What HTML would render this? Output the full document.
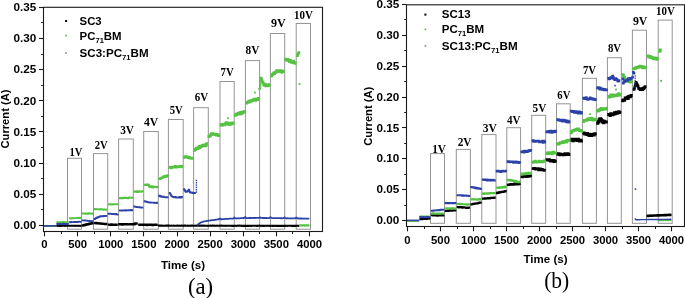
<!DOCTYPE html>
<html><head><meta charset="utf-8"><title>plot</title>
<style>html,body{margin:0;padding:0;background:#fff;width:685px;height:298px;overflow:hidden}svg{display:block;will-change:transform}</style>
</head><body>
<svg width="685" height="298" viewBox="0 0 685 298">
<rect width="685" height="298" fill="#fff"/>
<rect x="67.5" y="158.3" width="14" height="70.9" fill="none" stroke="#959595" stroke-width="1"/>
<rect x="93.5" y="153.6" width="14.2" height="75.6" fill="none" stroke="#959595" stroke-width="1"/>
<rect x="118.6" y="139" width="14.7" height="90.2" fill="none" stroke="#959595" stroke-width="1"/>
<rect x="143.7" y="131.5" width="14.6" height="97.7" fill="none" stroke="#959595" stroke-width="1"/>
<rect x="168.4" y="119.5" width="14.8" height="109.7" fill="none" stroke="#959595" stroke-width="1"/>
<rect x="193.6" y="107.7" width="14.7" height="121.5" fill="none" stroke="#959595" stroke-width="1"/>
<rect x="220" y="81.5" width="14.2" height="147.7" fill="none" stroke="#959595" stroke-width="1"/>
<rect x="245.4" y="60.6" width="14.2" height="168.6" fill="none" stroke="#959595" stroke-width="1"/>
<rect x="270.4" y="33.5" width="14.3" height="195.7" fill="none" stroke="#959595" stroke-width="1"/>
<rect x="296.2" y="23.5" width="14.3" height="205.7" fill="none" stroke="#959595" stroke-width="1"/>
<text x="76" y="155.6" font-family="Liberation Serif" font-size="11.5" font-weight="bold" text-anchor="middle" textLength="12.8" lengthAdjust="spacingAndGlyphs">1V</text>
<text x="101.2" y="148.6" font-family="Liberation Serif" font-size="11.5" font-weight="bold" text-anchor="middle" textLength="13" lengthAdjust="spacingAndGlyphs">2V</text>
<text x="127.1" y="134.3" font-family="Liberation Serif" font-size="11.5" font-weight="bold" text-anchor="middle" textLength="13.8" lengthAdjust="spacingAndGlyphs">3V</text>
<text x="151.15" y="126.4" font-family="Liberation Serif" font-size="11.5" font-weight="bold" text-anchor="middle" textLength="14.3" lengthAdjust="spacingAndGlyphs">4V</text>
<text x="176.2" y="113.6" font-family="Liberation Serif" font-size="11.5" font-weight="bold" text-anchor="middle" textLength="13" lengthAdjust="spacingAndGlyphs">5V</text>
<text x="201.45" y="101.3" font-family="Liberation Serif" font-size="11.5" font-weight="bold" text-anchor="middle" textLength="13.5" lengthAdjust="spacingAndGlyphs">6V</text>
<text x="227.2" y="75.5" font-family="Liberation Serif" font-size="11.5" font-weight="bold" text-anchor="middle" textLength="13.2" lengthAdjust="spacingAndGlyphs">7V</text>
<text x="252.5" y="54.4" font-family="Liberation Serif" font-size="11.5" font-weight="bold" text-anchor="middle" textLength="13.8" lengthAdjust="spacingAndGlyphs">8V</text>
<text x="278.3" y="27.1" font-family="Liberation Serif" font-size="11.5" font-weight="bold" text-anchor="middle" textLength="14.8" lengthAdjust="spacingAndGlyphs">9V</text>
<text x="303.5" y="18.8" font-family="Liberation Serif" font-size="11.5" font-weight="bold" text-anchor="middle" textLength="18.8" lengthAdjust="spacingAndGlyphs">10V</text>
<polyline points="44,225.85 44.72,225.85 45.44,225.85 46.15,225.85 46.87,225.85 47.59,225.85 48.31,225.85 49.02,225.85 49.74,225.85 50.46,225.85 51.18,225.85 51.89,225.85 52.61,225.85 53.33,225.85 54.05,225.85 54.76,225.85 55.48,225.85 56.2,225.85" fill="none" stroke="#000" stroke-width="1.2" stroke-linejoin="round" stroke-linecap="butt"/>
<polyline points="56.2,225.8 56.9,225.81 57.61,225.84 58.31,225.81 59.01,225.79 59.71,225.85 60.42,225.75 61.12,225.84 61.82,225.78 62.53,225.76 63.23,225.76 63.93,225.78 64.63,225.83 65.34,225.77 66.04,225.81 66.74,225.81 67.44,225.79 68.15,225.8 68.85,225.76 69.55,225.76 70.26,225.77 70.96,225.82 71.66,225.79 72.36,225.78 73.07,225.81 73.77,225.8 74.47,225.78 75.17,225.83 75.88,225.82 76.58,225.77 77.28,225.81 77.99,225.8 78.69,225.84 79.39,225.82 80.09,225.78 80.8,225.85 81.5,225.8" fill="none" stroke="#000" stroke-width="2.1" stroke-linejoin="round" stroke-linecap="butt"/>
<path fill="#000" d="M81.7 224.32h2.4v2.4h-2.4zM82.21 224.19h2.4v2.4h-2.4zM82.72 224.01h2.4v2.4h-2.4zM83.23 223.85h2.4v2.4h-2.4zM83.74 223.74h2.4v2.4h-2.4zM84.26 223.64h2.4v2.4h-2.4zM84.77 223.46h2.4v2.4h-2.4zM85.28 223.28h2.4v2.4h-2.4zM85.79 223.13h2.4v2.4h-2.4zM86.3 223.08h2.4v2.4h-2.4zM86.81 222.98h2.4v2.4h-2.4zM87.32 223.01h2.4v2.4h-2.4zM87.83 222.7h2.4v2.4h-2.4zM88.34 222.6h2.4v2.4h-2.4zM88.85 222.39h2.4v2.4h-2.4zM89.36 222.45h2.4v2.4h-2.4zM89.87 222.36h2.4v2.4h-2.4zM90.38 222.13h2.4v2.4h-2.4zM90.89 222.02h2.4v2.4h-2.4z"/>
<path fill="#000" d="M93.7 221.81h2.4v2.4h-2.4zM94.21 221.84h2.4v2.4h-2.4zM94.72 221.82h2.4v2.4h-2.4zM95.23 222.11h2.4v2.4h-2.4zM95.74 222.01h2.4v2.4h-2.4zM96.25 222.05h2.4v2.4h-2.4zM96.75 222.18h2.4v2.4h-2.4zM97.26 222.15h2.4v2.4h-2.4zM97.77 222.19h2.4v2.4h-2.4zM98.28 222.21h2.4v2.4h-2.4zM98.79 222.31h2.4v2.4h-2.4zM99.3 222.37h2.4v2.4h-2.4zM99.81 222.41h2.4v2.4h-2.4zM100.32 222.45h2.4v2.4h-2.4zM100.82 222.45h2.4v2.4h-2.4zM101.33 222.54h2.4v2.4h-2.4zM101.84 222.66h2.4v2.4h-2.4zM102.35 222.65h2.4v2.4h-2.4zM102.86 222.66h2.4v2.4h-2.4zM103.37 222.64h2.4v2.4h-2.4zM103.88 222.8h2.4v2.4h-2.4zM104.39 222.92h2.4v2.4h-2.4zM104.89 222.77h2.4v2.4h-2.4z"/>
<path fill="#000" d="M107.7 223.46h2.4v2.4h-2.4zM108.21 223.39h2.4v2.4h-2.4zM108.73 223.38h2.4v2.4h-2.4zM109.24 223.49h2.4v2.4h-2.4zM109.75 223.6h2.4v2.4h-2.4zM110.27 223.35h2.4v2.4h-2.4zM110.78 223.51h2.4v2.4h-2.4zM111.29 223.53h2.4v2.4h-2.4zM111.8 223.51h2.4v2.4h-2.4zM112.32 223.57h2.4v2.4h-2.4zM112.83 223.42h2.4v2.4h-2.4zM113.34 223.54h2.4v2.4h-2.4zM113.86 223.54h2.4v2.4h-2.4zM114.37 223.56h2.4v2.4h-2.4zM114.88 223.5h2.4v2.4h-2.4zM115.39 223.61h2.4v2.4h-2.4z"/>
<path fill="#000" d="M118.2 223.02h2.4v2.4h-2.4zM118.71 223.11h2.4v2.4h-2.4zM119.21 223.15h2.4v2.4h-2.4zM119.72 223.1h2.4v2.4h-2.4zM120.22 223.09h2.4v2.4h-2.4zM120.73 223.1h2.4v2.4h-2.4zM121.24 223.32h2.4v2.4h-2.4zM121.74 223.22h2.4v2.4h-2.4zM122.25 223.19h2.4v2.4h-2.4zM122.75 223.01h2.4v2.4h-2.4zM123.26 223.18h2.4v2.4h-2.4zM123.76 223.08h2.4v2.4h-2.4zM124.27 223.12h2.4v2.4h-2.4zM124.78 223.17h2.4v2.4h-2.4zM125.28 223.13h2.4v2.4h-2.4zM125.79 223.12h2.4v2.4h-2.4zM126.29 223.19h2.4v2.4h-2.4zM126.8 223.16h2.4v2.4h-2.4zM127.3 223.17h2.4v2.4h-2.4zM127.81 223.19h2.4v2.4h-2.4zM128.31 223.13h2.4v2.4h-2.4zM128.82 223.12h2.4v2.4h-2.4zM129.33 223.14h2.4v2.4h-2.4zM129.83 223.14h2.4v2.4h-2.4zM130.34 223.1h2.4v2.4h-2.4zM130.84 223.12h2.4v2.4h-2.4zM131.35 223.18h2.4v2.4h-2.4zM131.85 223.03h2.4v2.4h-2.4zM132.36 223.13h2.4v2.4h-2.4zM132.87 223.11h2.4v2.4h-2.4zM133.37 222.74h2.4v2.4h-2.4zM133.88 222.56h2.4v2.4h-2.4zM134.38 222.33h2.4v2.4h-2.4zM134.89 222.16h2.4v2.4h-2.4zM135.39 222.47h2.4v2.4h-2.4z"/>
<path fill="#000" d="M138.2 223.51h2.4v2.4h-2.4zM138.71 223.49h2.4v2.4h-2.4zM139.21 223.53h2.4v2.4h-2.4zM139.72 223.58h2.4v2.4h-2.4zM140.22 223.57h2.4v2.4h-2.4zM140.73 223.52h2.4v2.4h-2.4zM141.24 223.68h2.4v2.4h-2.4zM141.74 223.56h2.4v2.4h-2.4zM142.25 223.57h2.4v2.4h-2.4zM142.75 223.64h2.4v2.4h-2.4zM143.26 223.53h2.4v2.4h-2.4zM143.76 223.62h2.4v2.4h-2.4zM144.27 223.65h2.4v2.4h-2.4zM144.78 223.67h2.4v2.4h-2.4zM145.28 223.6h2.4v2.4h-2.4zM145.79 223.74h2.4v2.4h-2.4zM146.29 223.57h2.4v2.4h-2.4zM146.8 223.58h2.4v2.4h-2.4zM147.3 223.55h2.4v2.4h-2.4zM147.81 223.58h2.4v2.4h-2.4zM148.31 223.65h2.4v2.4h-2.4zM148.82 223.63h2.4v2.4h-2.4zM149.33 223.53h2.4v2.4h-2.4zM149.83 223.64h2.4v2.4h-2.4zM150.34 223.57h2.4v2.4h-2.4zM150.84 223.66h2.4v2.4h-2.4zM151.35 223.78h2.4v2.4h-2.4zM151.85 223.79h2.4v2.4h-2.4zM152.36 223.64h2.4v2.4h-2.4zM152.87 223.71h2.4v2.4h-2.4zM153.37 223.53h2.4v2.4h-2.4zM153.88 223.67h2.4v2.4h-2.4zM154.38 223.62h2.4v2.4h-2.4zM154.89 223.61h2.4v2.4h-2.4zM155.39 223.68h2.4v2.4h-2.4z"/>
<polyline points="158,225.7 158.7,225.65 159.41,225.65 160.11,225.68 160.81,225.68 161.51,225.72 162.22,225.75 162.92,225.7 163.62,225.75 164.33,225.75 165.03,225.75 165.73,225.69 166.44,225.68 167.14,225.68 167.84,225.68 168.54,225.68 169.25,225.72 169.95,225.75 170.65,225.74 171.36,225.71 172.06,225.73 172.76,225.74 173.47,225.67 174.17,225.73 174.87,225.75 175.57,225.74 176.28,225.74 176.98,225.71 177.68,225.68 178.39,225.74 179.09,225.7 179.79,225.75 180.5,225.76 181.2,225.71 181.9,225.71 182.6,225.76 183.31,225.74 184.01,225.69 184.71,225.68 185.42,225.68 186.12,225.76 186.82,225.75 187.53,225.69 188.23,225.75 188.93,225.77 189.63,225.74 190.34,225.71 191.04,225.73 191.74,225.69 192.45,225.68 193.15,225.77 193.85,225.74 194.56,225.73 195.26,225.77 195.96,225.72 196.66,225.76 197.37,225.76 198.07,225.7 198.77,225.7 199.48,225.71 200.18,225.7 200.88,225.74 201.59,225.71 202.29,225.72 202.99,225.69 203.69,225.77 204.4,225.72 205.1,225.73 205.8,225.74 206.51,225.77 207.21,225.73 207.91,225.78 208.61,225.74 209.32,225.74 210.02,225.74 210.72,225.69 211.43,225.73 212.13,225.71 212.83,225.69 213.54,225.77 214.24,225.71 214.94,225.74 215.64,225.76 216.35,225.75 217.05,225.72 217.75,225.74 218.46,225.75 219.16,225.77 219.86,225.7 220.57,225.75 221.27,225.72 221.97,225.72 222.67,225.77 223.38,225.75 224.08,225.75 224.78,225.77 225.49,225.79 226.19,225.74 226.89,225.76 227.6,225.75 228.3,225.75 229,225.77 229.7,225.75 230.41,225.75 231.11,225.75 231.81,225.8 232.52,225.77 233.22,225.79 233.92,225.8 234.63,225.73 235.33,225.76 236.03,225.8 236.73,225.79 237.44,225.72 238.14,225.72 238.84,225.75 239.55,225.71 240.25,225.73 240.95,225.72 241.66,225.78 242.36,225.79 243.06,225.8 243.76,225.73 244.47,225.78 245.17,225.78 245.87,225.73 246.58,225.8 247.28,225.81 247.98,225.74 248.69,225.81 249.39,225.75 250.09,225.76 250.79,225.81 251.5,225.8 252.2,225.73 252.9,225.76 253.61,225.77 254.31,225.75 255.01,225.74 255.71,225.75 256.42,225.79 257.12,225.72 257.82,225.78 258.53,225.77 259.23,225.72 259.93,225.76 260.64,225.79 261.34,225.77 262.04,225.73 262.74,225.82 263.45,225.8 264.15,225.82 264.85,225.74 265.56,225.75 266.26,225.73 266.96,225.81 267.67,225.75 268.37,225.74 269.07,225.77 269.77,225.82 270.48,225.81 271.18,225.76 271.88,225.75 272.59,225.82 273.29,225.79 273.99,225.8 274.7,225.74 275.4,225.74 276.1,225.8 276.8,225.78 277.51,225.74 278.21,225.83 278.91,225.8 279.62,225.82 280.32,225.74 281.02,225.82 281.73,225.74 282.43,225.82 283.13,225.78 283.83,225.77 284.54,225.79 285.24,225.83 285.94,225.77 286.65,225.75 287.35,225.79 288.05,225.77 288.76,225.75 289.46,225.76 290.16,225.75 290.86,225.76 291.57,225.78 292.27,225.78 292.97,225.82 293.68,225.78 294.38,225.8 295.08,225.76 295.79,225.78 296.49,225.75 297.19,225.77 297.89,225.75 298.6,225.82 299.3,225.8" fill="none" stroke="#000" stroke-width="2.2" stroke-linejoin="round" stroke-linecap="butt"/>
<polyline points="44,225.75 44.72,225.75 45.44,225.75 46.15,225.75 46.87,225.75 47.59,225.75 48.31,225.75 49.02,225.75 49.74,225.75 50.46,225.75 51.18,225.75 51.89,225.75 52.61,225.75 53.33,225.75 54.05,225.75 54.76,225.75 55.48,225.75 56.2,225.75" fill="none" stroke="#55c244" stroke-width="1.4" stroke-linejoin="round" stroke-linecap="butt"/>
<path fill="#55c244" d="M56.36 221.15h1.91v1.91h-1.91zM56.86 221.14h1.91v1.91h-1.91zM57.37 221.22h1.91v1.91h-1.91zM57.87 221.28h1.91v1.91h-1.91zM58.37 221.28h1.91v1.91h-1.91zM58.88 221.28h1.91v1.91h-1.91zM59.38 221.24h1.91v1.91h-1.91zM59.88 221.14h1.91v1.91h-1.91zM60.39 221.27h1.91v1.91h-1.91zM60.89 221.29h1.91v1.91h-1.91zM61.39 221.39h1.91v1.91h-1.91zM61.9 221.02h1.91v1.91h-1.91zM62.4 221.19h1.91v1.91h-1.91zM62.9 221.15h1.91v1.91h-1.91zM63.41 221.25h1.91v1.91h-1.91zM63.91 221.36h1.91v1.91h-1.91zM64.41 221.17h1.91v1.91h-1.91zM64.92 221.26h1.91v1.91h-1.91zM65.42 221.14h1.91v1.91h-1.91zM65.92 221.28h1.91v1.91h-1.91zM66.43 221.58h1.91v1.91h-1.91zM66.93 221.16h1.91v1.91h-1.91z"/>
<path fill="#55c244" d="M69.16 217.3h1.91v1.91h-1.91zM69.67 217.35h1.91v1.91h-1.91zM70.19 217.47h1.91v1.91h-1.91zM70.7 217.31h1.91v1.91h-1.91zM71.21 217.31h1.91v1.91h-1.91zM71.73 217.3h1.91v1.91h-1.91zM72.24 217.16h1.91v1.91h-1.91zM72.75 217.36h1.91v1.91h-1.91zM73.27 217.15h1.91v1.91h-1.91zM73.78 217.21h1.91v1.91h-1.91zM74.29 217.18h1.91v1.91h-1.91zM74.81 217.17h1.91v1.91h-1.91zM75.32 217.15h1.91v1.91h-1.91zM75.83 217.19h1.91v1.91h-1.91zM76.35 217.08h1.91v1.91h-1.91zM76.86 217.11h1.91v1.91h-1.91zM77.37 217.19h1.91v1.91h-1.91zM77.89 217.07h1.91v1.91h-1.91zM78.4 217.05h1.91v1.91h-1.91zM78.92 217.19h1.91v1.91h-1.91zM79.43 216.77h1.91v1.91h-1.91z"/>
<path fill="#55c244" d="M81.66 212.51h1.91v1.91h-1.91zM82.17 212.44h1.91v1.91h-1.91zM82.69 212.38h1.91v1.91h-1.91zM83.2 212.66h1.91v1.91h-1.91zM83.72 212.48h1.91v1.91h-1.91zM84.23 212.4h1.91v1.91h-1.91zM84.75 212.92h1.91v1.91h-1.91zM85.26 212.71h1.91v1.91h-1.91zM85.77 212.76h1.91v1.91h-1.91zM86.29 212.57h1.91v1.91h-1.91zM86.8 212.56h1.91v1.91h-1.91zM87.32 212.75h1.91v1.91h-1.91zM87.83 212.36h1.91v1.91h-1.91zM88.34 212.46h1.91v1.91h-1.91zM88.86 212.46h1.91v1.91h-1.91zM89.37 212.65h1.91v1.91h-1.91zM89.89 212.55h1.91v1.91h-1.91zM90.4 212.47h1.91v1.91h-1.91zM90.91 212.61h1.91v1.91h-1.91zM91.43 212.76h1.91v1.91h-1.91z"/>
<path fill="#55c244" d="M93.66 207.98h1.91v1.91h-1.91zM94.17 208.3h1.91v1.91h-1.91zM94.68 208.08h1.91v1.91h-1.91zM95.2 208.42h1.91v1.91h-1.91zM95.71 208.15h1.91v1.91h-1.91zM96.22 208.27h1.91v1.91h-1.91zM96.73 208.23h1.91v1.91h-1.91zM97.24 208.42h1.91v1.91h-1.91zM97.75 208.38h1.91v1.91h-1.91zM98.27 208.35h1.91v1.91h-1.91zM98.78 208.46h1.91v1.91h-1.91zM99.29 208.52h1.91v1.91h-1.91zM99.8 208.31h1.91v1.91h-1.91zM100.31 208.35h1.91v1.91h-1.91zM100.82 208.36h1.91v1.91h-1.91zM101.34 208.46h1.91v1.91h-1.91zM101.85 208.4h1.91v1.91h-1.91zM102.36 208.81h1.91v1.91h-1.91zM102.87 208.59h1.91v1.91h-1.91zM103.38 208.61h1.91v1.91h-1.91zM103.89 208.47h1.91v1.91h-1.91zM104.41 208.46h1.91v1.91h-1.91zM104.92 208.63h1.91v1.91h-1.91zM105.43 208.9h1.91v1.91h-1.91z"/>
<path fill="#55c244" d="M107.66 203.43h1.91v1.91h-1.91zM108.19 203.34h1.91v1.91h-1.91zM108.72 203.4h1.91v1.91h-1.91zM109.24 203.32h1.91v1.91h-1.91zM109.77 203.56h1.91v1.91h-1.91zM110.3 203.41h1.91v1.91h-1.91zM110.83 203.56h1.91v1.91h-1.91zM111.35 203.5h1.91v1.91h-1.91zM111.88 203.32h1.91v1.91h-1.91zM112.41 203.23h1.91v1.91h-1.91zM112.94 203.45h1.91v1.91h-1.91zM113.46 203.25h1.91v1.91h-1.91zM113.99 203.13h1.91v1.91h-1.91zM114.52 203.2h1.91v1.91h-1.91zM115.05 203.21h1.91v1.91h-1.91zM115.57 203.41h1.91v1.91h-1.91zM116.1 203.38h1.91v1.91h-1.91zM116.63 203.34h1.91v1.91h-1.91z"/>
<path fill="#55c244" d="M118.83 197.33h1.97v1.97h-1.97zM119.34 196.99h1.97v1.97h-1.97zM119.85 197.23h1.97v1.97h-1.97zM120.36 197.08h1.97v1.97h-1.97zM120.87 197.01h1.97v1.97h-1.97zM121.38 196.96h1.97v1.97h-1.97zM121.9 197.2h1.97v1.97h-1.97zM122.41 196.87h1.97v1.97h-1.97zM122.92 196.71h1.98v1.98h-1.98zM123.43 196.87h1.98v1.98h-1.98zM123.94 197.08h1.98v1.98h-1.98zM124.45 196.71h1.98v1.98h-1.98zM124.96 196.9h1.98v1.98h-1.98zM125.47 197.09h1.98v1.98h-1.98zM125.98 197.05h1.98v1.98h-1.98zM126.49 196.95h1.98v1.98h-1.98zM127.01 197.19h1.98v1.98h-1.98zM127.52 196.8h1.98v1.98h-1.98zM128.03 196.74h1.98v1.98h-1.98zM128.54 196.45h1.98v1.98h-1.98zM129.05 196.79h1.98v1.98h-1.98zM129.56 196.87h1.98v1.98h-1.98zM130.07 196.65h1.98v1.98h-1.98zM130.58 196.65h1.98v1.98h-1.98zM131.09 196.76h1.98v1.98h-1.98z"/>
<path fill="#55c244" d="M133.28 190.77h2.07v2.07h-2.07zM133.79 190.59h2.07v2.07h-2.07zM134.3 190.53h2.07v2.07h-2.07zM134.81 190.56h2.07v2.07h-2.07zM135.32 190.13h2.07v2.07h-2.07zM135.83 190.52h2.07v2.07h-2.07zM136.34 190.82h2.07v2.07h-2.07zM136.85 190.84h2.07v2.07h-2.07zM137.36 190.16h2.07v2.07h-2.07zM137.87 190.53h2.07v2.07h-2.07zM138.38 190.5h2.07v2.07h-2.07zM138.89 190.4h2.07v2.07h-2.07zM139.4 190.7h2.07v2.07h-2.07zM139.91 190.38h2.08v2.08h-2.08zM140.43 190.52h2.08v2.08h-2.08zM140.94 190.5h2.08v2.08h-2.08zM141.45 190.27h2.08v2.08h-2.08z"/>
<path fill="#55c244" d="M143.63 183.75h2.18v2.18h-2.18zM144.14 183.66h2.18v2.18h-2.18zM144.65 183.78h2.18v2.18h-2.18zM145.16 183.52h2.18v2.18h-2.18zM145.67 183.76h2.18v2.18h-2.18zM146.18 183.57h2.18v2.18h-2.18zM146.69 183.51h2.18v2.18h-2.18zM147.2 183.84h2.18v2.18h-2.18zM147.72 183.97h2.17v2.17h-2.17zM148.24 185.34h2.16v2.16h-2.16zM148.75 185.88h2.15v2.15h-2.15zM149.26 185.62h2.15v2.15h-2.15zM149.78 185.28h2.15v2.15h-2.15zM150.29 185.71h2.15v2.15h-2.15zM150.8 185.98h2.15v2.15h-2.15zM151.31 185.23h2.15v2.15h-2.15zM151.82 186.3h2.15v2.15h-2.15zM152.33 185.63h2.15v2.15h-2.15zM152.84 185.71h2.15v2.15h-2.15zM153.35 185.68h2.15v2.15h-2.15zM153.87 185.93h2.15v2.15h-2.15zM154.38 185.96h2.15v2.15h-2.15zM154.89 185.9h2.15v2.15h-2.15zM155.4 185.98h2.15v2.15h-2.15zM155.91 185.74h2.15v2.15h-2.15z"/>
<path fill="#55c244" d="M158.08 177.81h2.28v2.28h-2.28zM158.6 177.44h2.28v2.28h-2.28zM159.12 177.29h2.28v2.28h-2.28zM159.64 177.36h2.28v2.28h-2.28zM160.16 176.85h2.29v2.29h-2.29zM160.68 176.72h2.29v2.29h-2.29zM161.2 176.74h2.3v2.3h-2.3zM161.73 175.76h2.3v2.3h-2.3zM162.25 175.9h2.31v2.31h-2.31zM162.77 175.26h2.31v2.31h-2.31zM163.29 176.05h2.31v2.31h-2.31zM163.81 175.02h2.31v2.31h-2.31zM164.34 174.81h2.31v2.31h-2.31zM164.86 174.97h2.32v2.32h-2.32zM165.38 175.41h2.32v2.32h-2.32zM165.9 174.98h2.32v2.32h-2.32zM166.42 174.26h2.32v2.32h-2.32z"/>
<path fill="#55c244" d="M168.59 166.34h2.45v2.45h-2.45zM169.1 165.96h2.45v2.45h-2.45zM169.6 165.87h2.46v2.46h-2.46zM170.11 166.75h2.46v2.46h-2.46zM170.62 166.22h2.46v2.46h-2.46zM171.12 166.2h2.46v2.46h-2.46zM171.63 166.16h2.46v2.46h-2.46zM172.14 165.69h2.46v2.46h-2.46zM172.64 166.04h2.46v2.46h-2.46zM173.15 165.69h2.46v2.46h-2.46zM173.66 164.88h2.46v2.46h-2.46zM174.16 165.63h2.46v2.46h-2.46zM174.67 166.1h2.46v2.46h-2.46zM175.18 165.44h2.46v2.46h-2.46zM175.68 165.93h2.46v2.46h-2.46zM176.19 165.32h2.46v2.46h-2.46zM176.7 165.56h2.47v2.47h-2.47zM177.2 165.51h2.47v2.47h-2.47zM177.71 165.54h2.47v2.47h-2.47zM178.22 165.62h2.47v2.47h-2.47zM178.72 165.03h2.47v2.47h-2.47zM179.23 165.34h2.47v2.47h-2.47zM179.74 165.87h2.47v2.47h-2.47zM180.24 165.48h2.47v2.47h-2.47zM180.75 165.06h2.47v2.47h-2.47z"/>
<path fill="#55c244" d="M182.91 156.04h2.61v2.61h-2.61zM183.42 155.79h2.62v2.62h-2.62zM183.93 155.61h2.62v2.62h-2.62zM184.43 155.22h2.63v2.63h-2.63zM184.94 155.25h2.63v2.63h-2.63zM185.46 155.39h2.62v2.62h-2.62zM185.97 155.44h2.62v2.62h-2.62zM186.48 156.2h2.62v2.62h-2.62zM186.99 156.42h2.61v2.61h-2.61zM187.51 155.74h2.61v2.61h-2.61zM188.02 156.05h2.61v2.61h-2.61zM188.53 156.83h2.6v2.6h-2.6zM189.04 156.38h2.6v2.6h-2.6zM189.55 156.77h2.6v2.6h-2.6zM190.06 156.82h2.6v2.6h-2.6zM190.57 157.08h2.6v2.6h-2.6zM191.09 156.87h2.6v2.6h-2.6z"/>
<path fill="#55c244" d="M193.25 149.13h2.74v2.74h-2.74zM193.75 148.23h2.74v2.74h-2.74zM194.25 148.07h2.74v2.74h-2.74zM194.75 146.93h2.74v2.74h-2.74zM195.25 146.72h2.75v2.75h-2.75zM195.76 147.23h2.75v2.75h-2.75zM196.26 147.22h2.75v2.75h-2.75zM196.76 146.62h2.76v2.76h-2.76zM197.26 146.79h2.76v2.76h-2.76zM197.76 145.04h2.77v2.77h-2.77zM198.26 146.17h2.77v2.77h-2.77zM198.76 146.08h2.78v2.78h-2.78zM199.26 144.63h2.78v2.78h-2.78zM199.76 145.29h2.78v2.78h-2.78zM200.26 145h2.78v2.78h-2.78zM200.76 144.56h2.79v2.79h-2.79zM201.27 143.68h2.79v2.79h-2.79zM201.77 143.83h2.79v2.79h-2.79zM202.27 144.33h2.79v2.79h-2.79zM202.77 144.5h2.79v2.79h-2.79zM203.28 143.89h2.79v2.79h-2.79zM203.78 144.49h2.79v2.79h-2.79zM204.28 143.2h2.79v2.79h-2.79zM204.79 144.16h2.79v2.79h-2.79zM205.29 142.31h2.79v2.79h-2.79z"/>
<path fill="#55c244" d="M207.52 135.09h2.79v2.79h-2.79zM208.04 134.83h2.79v2.79h-2.79zM208.56 134.46h2.79v2.79h-2.79zM209.08 134.3h2.79v2.79h-2.79zM209.6 133.11h2.79v2.79h-2.79zM210.12 132.3h2.79v2.79h-2.79zM210.64 132.89h2.79v2.79h-2.79zM211.16 132.37h2.79v2.79h-2.79zM211.68 133.05h2.79v2.79h-2.79zM212.2 132.51h2.79v2.79h-2.79zM212.71 132.88h2.79v2.79h-2.79zM213.23 132.96h2.79v2.79h-2.79zM213.75 133.09h2.79v2.79h-2.79zM214.27 132.77h2.79v2.79h-2.79zM214.79 133.72h2.79v2.79h-2.79zM215.31 132.9h2.79v2.79h-2.79zM215.83 133.2h2.79v2.79h-2.79zM216.35 133.56h2.79v2.79h-2.79zM216.87 133.4h2.79v2.79h-2.79zM217.39 134.11h2.79v2.79h-2.79z"/>
<path fill="#55c244" d="M219.62 123.56h2.79v2.79h-2.79zM220.12 123.3h2.79v2.79h-2.79zM220.63 123.88h2.79v2.79h-2.79zM221.13 123.49h2.79v2.79h-2.79zM221.63 122.75h2.79v2.79h-2.79zM222.14 122.79h2.79v2.79h-2.79zM222.64 122.99h2.79v2.79h-2.79zM223.14 123.37h2.79v2.79h-2.79zM223.64 123.02h2.79v2.79h-2.79zM224.15 122.54h2.79v2.79h-2.79zM224.65 121.3h2.79v2.79h-2.79zM225.15 122.65h2.79v2.79h-2.79zM225.66 121.77h2.79v2.79h-2.79zM226.16 121.57h2.79v2.79h-2.79zM226.66 121.95h2.79v2.79h-2.79zM227.16 122.3h2.79v2.79h-2.79zM227.67 122.24h2.79v2.79h-2.79zM228.17 123.31h2.79v2.79h-2.79zM228.67 122.05h2.79v2.79h-2.79zM229.17 121.76h2.79v2.79h-2.79zM229.68 122.62h2.79v2.79h-2.79zM230.18 122.14h2.79v2.79h-2.79zM230.68 121.82h2.79v2.79h-2.79zM231.19 121.59h2.79v2.79h-2.79zM231.69 121.94h2.79v2.79h-2.79z"/>
<path fill="#55c244" d="M233.92 114.05h2.79v2.79h-2.79zM234.42 113.48h2.79v2.79h-2.79zM234.93 112.85h2.79v2.79h-2.79zM235.43 113.21h2.79v2.79h-2.79zM235.94 112.7h2.79v2.79h-2.79zM236.44 111.83h2.79v2.79h-2.79zM236.94 112.56h2.79v2.79h-2.79zM237.45 112.3h2.79v2.79h-2.79zM237.95 112.61h2.79v2.79h-2.79zM238.45 111.63h2.79v2.79h-2.79zM238.96 110.98h2.79v2.79h-2.79zM239.46 111.7h2.79v2.79h-2.79zM239.97 112.36h2.79v2.79h-2.79zM240.47 110.78h2.79v2.79h-2.79zM240.97 111.73h2.79v2.79h-2.79zM241.48 110.86h2.79v2.79h-2.79zM241.98 111h2.79v2.79h-2.79zM242.49 110.57h2.79v2.79h-2.79zM242.99 110.03h2.79v2.79h-2.79z"/>
<path fill="#55c244" d="M245.22 101.76h2.79v2.79h-2.79zM245.74 100.9h2.79v2.79h-2.79zM246.25 100.97h2.79v2.79h-2.79zM246.77 100.93h2.79v2.79h-2.79zM247.28 99.86h2.79v2.79h-2.79zM247.8 100.56h2.79v2.79h-2.79zM248.32 100.26h2.79v2.79h-2.79zM248.83 99.73h2.79v2.79h-2.79zM249.35 99.36h2.79v2.79h-2.79zM249.87 99.59h2.79v2.79h-2.79zM250.38 99.44h2.79v2.79h-2.79zM250.9 98.98h2.79v2.79h-2.79zM251.41 99.03h2.79v2.79h-2.79zM251.93 98.79h2.79v2.79h-2.79zM252.45 97.84h2.79v2.79h-2.79zM252.96 99.05h2.79v2.79h-2.79zM253.48 98.86h2.79v2.79h-2.79zM253.99 97.68h2.79v2.79h-2.79zM254.51 99.07h2.79v2.79h-2.79zM255.03 97.87h2.79v2.79h-2.79zM255.54 97.6h2.79v2.79h-2.79zM256.06 97.85h2.79v2.79h-2.79zM256.57 98.14h2.79v2.79h-2.79zM257.09 97.02h2.79v2.79h-2.79z"/>
<path fill="#55c244" d="M259.72 76.72h2.79v2.79h-2.79zM260.23 78.24h2.79v2.79h-2.79zM260.74 79.54h2.79v2.79h-2.79zM261.25 81.07h2.79v2.79h-2.79zM261.76 81.55h2.79v2.79h-2.79zM262.27 82.85h2.79v2.79h-2.79zM262.78 83.6h2.79v2.79h-2.79zM263.29 83.33h2.79v2.79h-2.79zM263.81 82.74h2.79v2.79h-2.79zM264.32 84.4h2.79v2.79h-2.79zM264.83 84.41h2.79v2.79h-2.79zM265.34 84.49h2.79v2.79h-2.79zM265.85 83.87h2.79v2.79h-2.79zM266.36 84.26h2.79v2.79h-2.79zM266.87 84.3h2.79v2.79h-2.79zM267.38 83.27h2.79v2.79h-2.79zM267.89 83.98h2.79v2.79h-2.79z"/>
<path fill="#55c244" d="M270.12 74.66h2.79v2.79h-2.79zM270.64 73.47h2.79v2.79h-2.79zM271.16 73.27h2.79v2.79h-2.79zM271.68 72.81h2.79v2.79h-2.79zM272.2 72.03h2.79v2.79h-2.79zM272.72 71.17h2.79v2.79h-2.79zM273.24 72.15h2.79v2.79h-2.79zM273.76 71.51h2.79v2.79h-2.79zM274.28 70.76h2.79v2.79h-2.79zM274.8 70.59h2.79v2.79h-2.79zM275.32 69.22h2.79v2.79h-2.79zM275.84 69.67h2.79v2.79h-2.79zM276.37 69.21h2.79v2.79h-2.79zM276.89 70h2.79v2.79h-2.79zM277.41 69.56h2.79v2.79h-2.79zM277.93 69.25h2.79v2.79h-2.79zM278.45 70.14h2.79v2.79h-2.79zM278.97 69.84h2.79v2.79h-2.79zM279.49 69.37h2.79v2.79h-2.79zM280.01 69.57h2.79v2.79h-2.79zM280.53 70.96h2.79v2.79h-2.79zM281.05 69.69h2.79v2.79h-2.79zM281.57 69.82h2.79v2.79h-2.79zM282.09 70.09h2.79v2.79h-2.79z"/>
<path fill="#55c244" d="M284.32 57.74h2.79v2.79h-2.79zM284.85 58.36h2.79v2.79h-2.79zM285.37 58.65h2.79v2.79h-2.79zM285.9 58.89h2.79v2.79h-2.79zM286.43 58.09h2.79v2.79h-2.79zM286.95 58.62h2.79v2.79h-2.79zM287.48 58.78h2.79v2.79h-2.79zM288 60.15h2.79v2.79h-2.79zM288.53 60.12h2.79v2.79h-2.79zM289.06 59.08h2.79v2.79h-2.79zM289.58 60.48h2.79v2.79h-2.79zM290.11 60.84h2.79v2.79h-2.79zM290.63 60.4h2.79v2.79h-2.79zM291.16 60.63h2.79v2.79h-2.79zM291.69 61.22h2.79v2.79h-2.79zM292.21 59.82h2.79v2.79h-2.79zM292.74 61h2.79v2.79h-2.79zM293.26 61.4h2.79v2.79h-2.79zM293.79 61.91h2.79v2.79h-2.79z"/>
<path fill="#55c244" d="M296.02 54.23h2.79v2.79h-2.79zM296.75 52.37h2.79v2.79h-2.79zM297.49 51.34h2.79v2.79h-2.79z"/>
<polyline points="299.3,225.4 300.03,225.38 300.76,225.38 301.49,225.39 302.21,225.43 302.94,225.36 303.67,225.37 304.4,225.43 305.13,225.37 305.86,225.36 306.59,225.35 307.31,225.41 308.04,225.38 308.77,225.45 309.5,225.4" fill="none" stroke="#55c244" stroke-width="2.4" stroke-linejoin="round" stroke-linecap="butt"/>
<rect x="227.1" y="117.3" width="1.8" height="1.8" fill="#55c244"/>
<rect x="254.1" y="91.7" width="1.8" height="1.8" fill="#55c244"/>
<rect x="298.6" y="83.1" width="1.8" height="1.8" fill="#55c244"/>
<rect x="258.3" y="88.1" width="1.8" height="1.8" fill="#55c244"/>
<rect x="259.05" y="87.45" width="2.1" height="2.1" fill="#55c244"/>
<rect x="259.05" y="85.45" width="2.1" height="2.1" fill="#55c244"/>
<rect x="259.05" y="83.45" width="2.1" height="2.1" fill="#55c244"/>
<rect x="259.05" y="81.45" width="2.1" height="2.1" fill="#55c244"/>
<rect x="259.05" y="79.45" width="2.1" height="2.1" fill="#55c244"/>
<rect x="259.05" y="77.45" width="2.1" height="2.1" fill="#55c244"/>
<polyline points="44,225.85 44.72,225.85 45.44,225.85 46.15,225.85 46.87,225.85 47.59,225.85 48.31,225.85 49.02,225.85 49.74,225.85 50.46,225.85 51.18,225.85 51.89,225.85 52.61,225.85 53.33,225.85 54.05,225.85 54.76,225.85 55.48,225.85 56.2,225.85" fill="none" stroke="#2c42a8" stroke-width="1.6" stroke-linejoin="round" stroke-linecap="butt"/>
<path fill="#2c42a8" d="M56.35 222.95h1.79v1.79h-1.79zM56.86 223.16h1.79v1.79h-1.79zM57.37 223.03h1.79v1.79h-1.79zM57.88 223.01h1.79v1.79h-1.79zM58.39 223.06h1.79v1.79h-1.79zM58.9 223.1h1.79v1.79h-1.79zM59.41 223.03h1.79v1.79h-1.79zM59.92 223.11h1.79v1.79h-1.79zM60.43 223.19h1.79v1.79h-1.79zM60.94 223.24h1.79v1.79h-1.79zM61.45 223.3h1.79v1.79h-1.79zM61.96 223.02h1.79v1.79h-1.79zM62.47 223.06h1.79v1.79h-1.79zM62.98 222.82h1.79v1.79h-1.79zM63.49 223.32h1.79v1.79h-1.79zM64 223.02h1.79v1.79h-1.79zM64.51 223.1h1.79v1.79h-1.79zM65.02 223.17h1.79v1.79h-1.79zM65.53 222.95h1.79v1.79h-1.79zM66.04 223.16h1.79v1.79h-1.79zM66.55 223.1h1.79v1.79h-1.79zM67.06 222.9h1.79v1.79h-1.79z"/>
<path fill="#2c42a8" d="M69.15 221.31h1.79v1.79h-1.79zM69.67 221.39h1.79v1.79h-1.79zM70.19 221.03h1.79v1.79h-1.79zM70.71 221.31h1.79v1.79h-1.79zM71.23 221.23h1.79v1.79h-1.79zM71.75 221.24h1.79v1.79h-1.79zM72.27 221.22h1.79v1.79h-1.79zM72.79 221.3h1.79v1.79h-1.79zM73.31 221.11h1.79v1.79h-1.79zM73.84 221.22h1.79v1.79h-1.79zM74.36 221.06h1.79v1.79h-1.79zM74.88 221.17h1.79v1.79h-1.79zM75.4 220.98h1.79v1.79h-1.79zM75.92 221.04h1.79v1.79h-1.79zM76.44 221.24h1.79v1.79h-1.79zM76.96 221.07h1.79v1.79h-1.79zM77.48 220.99h1.79v1.79h-1.79zM78 220.86h1.79v1.79h-1.79zM78.52 220.88h1.79v1.79h-1.79zM79.04 220.98h1.79v1.79h-1.79zM79.56 221.05h1.79v1.79h-1.79z"/>
<path fill="#2c42a8" d="M81.65 219.46h1.79v1.79h-1.79zM82.17 219.52h1.79v1.79h-1.79zM82.69 219.51h1.79v1.79h-1.79zM83.22 219.72h1.79v1.79h-1.79zM83.74 219.57h1.79v1.79h-1.79zM84.26 219.61h1.79v1.79h-1.79zM84.78 219.82h1.79v1.79h-1.79zM85.3 219.78h1.79v1.79h-1.79zM85.82 219.8h1.79v1.79h-1.79zM86.35 219.81h1.79v1.79h-1.79zM86.87 219.9h1.79v1.79h-1.79zM87.39 220.06h1.79v1.79h-1.79zM87.91 220.08h1.79v1.79h-1.79zM88.43 219.95h1.79v1.79h-1.79zM88.95 220.19h1.79v1.79h-1.79zM89.48 220.21h1.79v1.79h-1.79zM90 220.13h1.79v1.79h-1.79zM90.52 220.39h1.79v1.79h-1.79zM91.04 220.32h1.79v1.79h-1.79zM91.56 220.36h1.79v1.79h-1.79z"/>
<path fill="#2c42a8" d="M93.65 218.13h1.79v1.79h-1.79zM94.17 217.91h1.79v1.79h-1.79zM94.69 217.4h1.79v1.79h-1.79zM95.2 217.25h1.79v1.79h-1.79zM95.72 216.81h1.79v1.79h-1.79zM96.24 216.92h1.79v1.79h-1.79zM96.76 216.39h1.79v1.79h-1.79zM97.28 216.37h1.79v1.79h-1.79zM97.79 215.96h1.79v1.79h-1.79zM98.31 215.92h1.79v1.79h-1.79zM98.83 215.87h1.79v1.79h-1.79zM99.35 215.2h1.79v1.79h-1.79zM99.87 215.4h1.79v1.79h-1.79zM100.38 215.46h1.79v1.79h-1.79zM100.9 215.35h1.79v1.79h-1.79zM101.42 215.24h1.79v1.79h-1.79zM101.94 215.52h1.79v1.79h-1.79zM102.45 215.25h1.79v1.79h-1.79zM102.97 215.01h1.79v1.79h-1.79zM103.49 215.25h1.79v1.79h-1.79zM104.01 214.92h1.79v1.79h-1.79zM104.53 215.2h1.79v1.79h-1.79zM105.04 214.97h1.79v1.79h-1.79zM105.56 215.01h1.79v1.79h-1.79z"/>
<path fill="#2c42a8" d="M107.65 212.92h1.79v1.79h-1.79zM108.16 212.83h1.79v1.79h-1.79zM108.66 212.69h1.79v1.79h-1.79zM109.17 212.7h1.79v1.79h-1.79zM109.67 213.06h1.79v1.79h-1.79zM110.18 213.05h1.79v1.79h-1.79zM110.69 212.9h1.79v1.79h-1.79zM111.19 213.13h1.79v1.79h-1.79zM111.7 213.13h1.79v1.79h-1.79zM112.21 213.18h1.79v1.79h-1.79zM112.71 212.88h1.79v1.79h-1.79zM113.22 213.14h1.79v1.79h-1.79zM113.72 213.32h1.79v1.79h-1.79zM114.23 213.33h1.79v1.79h-1.79zM114.74 213.39h1.79v1.79h-1.79zM115.24 213.04h1.79v1.79h-1.79zM115.75 213.38h1.79v1.79h-1.79zM116.26 213.45h1.79v1.79h-1.79zM116.76 213.72h1.79v1.79h-1.79z"/>
<path fill="#2c42a8" d="M118.85 209.57h1.79v1.79h-1.79zM119.37 209.63h1.79v1.79h-1.79zM119.88 209.65h1.79v1.79h-1.79zM120.4 209.74h1.79v1.79h-1.79zM120.92 209.57h1.79v1.79h-1.79zM121.44 209.74h1.79v1.79h-1.79zM121.95 209.5h1.79v1.79h-1.79zM122.47 209.61h1.79v1.79h-1.79zM122.99 209.5h1.79v1.79h-1.79zM123.5 209.57h1.79v1.79h-1.79zM124.02 209.46h1.79v1.79h-1.79zM124.54 209.34h1.79v1.79h-1.79zM125.06 209.63h1.79v1.79h-1.79zM125.57 209.53h1.79v1.79h-1.79zM126.09 209.41h1.79v1.79h-1.79zM126.61 209.49h1.79v1.79h-1.79zM127.12 209.56h1.79v1.79h-1.79zM127.64 209.32h1.79v1.79h-1.79zM128.16 209.41h1.79v1.79h-1.79zM128.68 209.47h1.79v1.79h-1.79zM129.19 209.45h1.79v1.79h-1.79zM129.71 209.34h1.79v1.79h-1.79zM130.23 209.12h1.79v1.79h-1.79zM130.74 209.49h1.79v1.79h-1.79zM131.26 209.37h1.79v1.79h-1.79z"/>
<path fill="#2c42a8" d="M133.35 205.48h1.79v1.79h-1.79zM133.87 205.63h1.79v1.79h-1.79zM134.39 205.88h1.79v1.79h-1.79zM134.91 205.99h1.79v1.79h-1.79zM135.43 206.02h1.79v1.79h-1.79zM135.95 206.1h1.79v1.79h-1.79zM136.47 206.16h1.79v1.79h-1.79zM136.99 206.21h1.79v1.79h-1.79zM137.51 206.2h1.79v1.79h-1.79zM138.03 206.45h1.79v1.79h-1.79zM138.55 206.27h1.79v1.79h-1.79zM139.06 206.55h1.79v1.79h-1.79zM139.58 206.4h1.79v1.79h-1.79zM140.1 206.61h1.79v1.79h-1.79zM140.62 206.77h1.79v1.79h-1.79zM141.14 206.69h1.79v1.79h-1.79zM141.66 206.63h1.79v1.79h-1.79z"/>
<path fill="#2c42a8" d="M143.74 200.28h1.8v1.8h-1.8zM144.26 200.65h1.79v1.79h-1.79zM144.78 200.54h1.79v1.79h-1.79zM145.3 200.77h1.79v1.79h-1.79zM145.82 200.97h1.79v1.79h-1.79zM146.34 201h1.79v1.79h-1.79zM146.85 201.16h1.79v1.79h-1.79zM147.37 201.34h1.79v1.79h-1.79zM147.89 201.45h1.79v1.79h-1.79zM148.4 201.57h1.79v1.79h-1.79zM148.92 201.64h1.79v1.79h-1.79zM149.44 201.6h1.79v1.79h-1.79zM149.96 201.67h1.79v1.79h-1.79zM150.47 201.68h1.79v1.79h-1.79zM150.99 201.71h1.79v1.79h-1.79zM151.51 201.76h1.79v1.79h-1.79zM152.02 201.63h1.79v1.79h-1.79zM152.54 201.82h1.79v1.79h-1.79zM153.06 201.9h1.79v1.79h-1.79zM153.58 201.83h1.79v1.79h-1.79zM154.09 201.97h1.79v1.79h-1.79zM154.61 202.07h1.79v1.79h-1.79zM155.13 202.03h1.79v1.79h-1.79zM155.64 202.33h1.79v1.79h-1.79zM156.16 201.84h1.79v1.79h-1.79z"/>
<path fill="#2c42a8" d="M158.2 194.87h1.88v1.88h-1.88zM158.71 194.8h1.88v1.88h-1.88zM159.21 195.35h1.87v1.87h-1.87zM159.71 195.71h1.87v1.87h-1.87zM160.21 195.16h1.87v1.87h-1.87zM160.71 195.68h1.87v1.87h-1.87zM161.22 195.86h1.87v1.87h-1.87zM161.72 195.8h1.86v1.86h-1.86zM162.22 195.98h1.86v1.86h-1.86zM162.72 195.66h1.86v1.86h-1.86zM163.22 196.14h1.86v1.86h-1.86zM163.72 196.14h1.86v1.86h-1.86zM164.22 196.15h1.86v1.86h-1.86zM164.72 196.13h1.86v1.86h-1.86zM165.22 196.35h1.86v1.86h-1.86zM165.73 196.26h1.86v1.86h-1.86zM166.23 196.42h1.86v1.86h-1.86zM166.73 196.38h1.86v1.86h-1.86z"/>
<path fill="#2c42a8" d="M168.79 191.98h1.92v1.92h-1.92zM169.3 192.94h1.91v1.91h-1.91zM169.82 193.78h1.9v1.9h-1.9zM170.34 194.66h1.88v1.88h-1.88zM170.86 195.22h1.87v1.87h-1.87zM171.38 195.71h1.87v1.87h-1.87zM171.89 195.89h1.87v1.87h-1.87zM172.4 195.91h1.86v1.86h-1.86zM172.92 196.15h1.86v1.86h-1.86zM173.43 196.34h1.86v1.86h-1.86zM173.94 196.02h1.86v1.86h-1.86zM174.46 195.97h1.86v1.86h-1.86zM174.97 196.44h1.86v1.86h-1.86zM175.48 196.62h1.86v1.86h-1.86zM176 196.62h1.86v1.86h-1.86zM176.51 196.69h1.85v1.85h-1.85zM177.03 196.58h1.85v1.85h-1.85zM177.54 196.5h1.85v1.85h-1.85zM178.05 196.64h1.85v1.85h-1.85zM178.56 196.31h1.86v1.86h-1.86zM179.08 196.11h1.86v1.86h-1.86zM179.59 196.14h1.86v1.86h-1.86zM180.1 196.54h1.86v1.86h-1.86zM180.61 196.38h1.86v1.86h-1.86zM181.13 195.94h1.86v1.86h-1.86z"/>
<path fill="#2c42a8" d="M183.16 188.29h1.97v1.97h-1.97zM183.68 189.18h1.96v1.96h-1.96zM184.2 189.74h1.95v1.95h-1.95zM184.72 190.81h1.94v1.94h-1.94zM185.24 190.92h1.94v1.94h-1.94zM185.75 190.49h1.94v1.94h-1.94zM186.26 190.63h1.94v1.94h-1.94zM186.77 190.06h1.95v1.95h-1.95zM187.29 189.64h1.96v1.96h-1.96zM187.79 188.77h1.97v1.97h-1.97zM188.31 189.27h1.96v1.96h-1.96zM188.84 190.99h1.94v1.94h-1.94zM189.36 191.48h1.93v1.93h-1.93zM189.87 191.38h1.93v1.93h-1.93zM190.39 191.41h1.92v1.92h-1.92zM190.91 191.65h1.92v1.92h-1.92zM191.42 191.82h1.92v1.92h-1.92zM191.94 192.02h1.92v1.92h-1.92zM192.45 192.06h1.92v1.92h-1.92zM192.97 192.16h1.92v1.92h-1.92zM193.48 192.11h1.92v1.92h-1.92zM194 191.98h1.92v1.92h-1.92z"/>
<polyline points="197,225.2 197.7,224.64 198.4,224.12 199.11,223.49 199.81,223.08 200.51,222.71 201.21,222.27 201.91,222.02 202.62,221.82 203.32,221.59 204.02,221.47 204.72,221.31 205.42,221.2 206.12,221.06 206.83,220.86 207.53,220.79 208.23,220.69 208.93,220.56 209.63,220.57 210.34,220.41 211.04,220.31 211.74,220.22 212.44,220.2 213.14,220.15 213.84,220.05 214.55,219.9 215.25,219.78 215.95,219.64 216.65,219.61 217.35,219.49 218.06,219.35 218.76,219.24 219.46,218.63 220.16,218.73 220.86,219.27 221.57,219.21 222.27,219.24 222.97,219.09 223.67,219.1 224.37,219.04 225.07,218.97 225.78,218.91 226.48,218.95 227.18,218.81 227.88,218.83 228.58,218.83 229.29,218.68 229.99,218.64 230.69,218.65 231.39,218.59 232.09,218.56 232.8,218.53 233.5,218.45 234.2,217.46 234.9,218.04 235.6,218.42 236.31,218.48 237.01,218.43 237.71,218.39 238.41,218.27 239.11,218.33 239.81,218.28 240.52,218.21 241.22,218.21 241.92,218.14 242.62,218.07 243.32,218.02 244.03,218 244.73,217.61 245.43,217.06 246.13,218.03 246.83,218.04 247.53,218.05 248.24,218.03 248.94,217.97 249.64,218 250.34,217.97 251.04,218.01 251.75,217.97 252.45,217.93 253.15,217.97 253.85,218 254.55,217.91 255.26,217.98 255.96,217.87 256.66,217.89 257.36,217.88 258.06,217.93 258.76,217.95 259.47,217.6 260.17,217.35 260.87,217.95 261.57,217.89 262.27,217.9 262.98,217.99 263.68,217.97 264.38,217.99 265.08,218 265.78,218.05 266.49,218 267.19,218.06 267.89,218.06 268.59,218.09 269.29,217.97 270,217.42 270.7,217.32 271.4,217.87 272.1,218.03 272.8,218.09 273.5,218.04 274.21,218.15 274.91,218.07 275.61,218.07 276.31,218.09 277.01,218.2 277.72,218.14 278.42,218.13 279.12,218.13 279.82,218.14 280.52,218.23 281.23,218.24 281.93,218.26 282.63,218.28 283.33,218.22 284.03,217.75 284.73,217.37 285.44,218 286.14,218.31 286.84,218.34 287.54,218.25 288.24,218.36 288.95,218.38 289.65,218.39 290.35,218.31 291.05,218.33 291.75,218.33 292.46,218.34 293.16,218.45 293.86,218.45 294.56,218.45 295.26,218.34 295.96,217.74 296.67,217.72 297.37,218.28 298.07,218.41 298.77,218.5 299.47,218.45 300.18,218.48 300.88,218.51 301.58,218.48 302.28,218.52 302.98,218.54 303.69,218.61 304.39,218.58 305.09,218.59 305.79,218.68 306.49,218.64 307.19,218.7 307.9,218.68 308.6,218.63 309.3,218.7" fill="none" stroke="#2c42a8" stroke-width="1.8" stroke-linejoin="round" stroke-linecap="butt"/>
<rect x="195.7" y="191.3" width="1.4" height="1.4" fill="#2c42a8"/>
<rect x="195.7" y="189" width="1.4" height="1.4" fill="#2c42a8"/>
<rect x="195.7" y="186.7" width="1.4" height="1.4" fill="#2c42a8"/>
<rect x="195.7" y="184.4" width="1.4" height="1.4" fill="#2c42a8"/>
<rect x="195.7" y="182.1" width="1.4" height="1.4" fill="#2c42a8"/>
<rect x="195.7" y="179.8" width="1.4" height="1.4" fill="#2c42a8"/>
<rect x="43.5" y="7.3" width="279" height="224.2" fill="none" stroke="#1a1a1a" stroke-width="1.1"/>
<line x1="39" y1="225.5" x2="43.5" y2="225.5" stroke="#1a1a1a" stroke-width="1.1"/>
<text x="36.2" y="229.2" font-family="Liberation Sans" font-size="11" font-weight="bold" text-anchor="end" textLength="22.8" lengthAdjust="spacingAndGlyphs">0.00</text>
<line x1="39" y1="194.5" x2="43.5" y2="194.5" stroke="#1a1a1a" stroke-width="1.1"/>
<text x="36.2" y="198.03" font-family="Liberation Sans" font-size="11" font-weight="bold" text-anchor="end" textLength="22.8" lengthAdjust="spacingAndGlyphs">0.05</text>
<line x1="39" y1="163.5" x2="43.5" y2="163.5" stroke="#1a1a1a" stroke-width="1.1"/>
<text x="36.2" y="166.86" font-family="Liberation Sans" font-size="11" font-weight="bold" text-anchor="end" textLength="22.8" lengthAdjust="spacingAndGlyphs">0.10</text>
<line x1="39" y1="131.5" x2="43.5" y2="131.5" stroke="#1a1a1a" stroke-width="1.1"/>
<text x="36.2" y="135.69" font-family="Liberation Sans" font-size="11" font-weight="bold" text-anchor="end" textLength="22.8" lengthAdjust="spacingAndGlyphs">0.15</text>
<line x1="39" y1="100.5" x2="43.5" y2="100.5" stroke="#1a1a1a" stroke-width="1.1"/>
<text x="36.2" y="104.52" font-family="Liberation Sans" font-size="11" font-weight="bold" text-anchor="end" textLength="22.8" lengthAdjust="spacingAndGlyphs">0.20</text>
<line x1="39" y1="69.5" x2="43.5" y2="69.5" stroke="#1a1a1a" stroke-width="1.1"/>
<text x="36.2" y="73.35" font-family="Liberation Sans" font-size="11" font-weight="bold" text-anchor="end" textLength="22.8" lengthAdjust="spacingAndGlyphs">0.25</text>
<line x1="39" y1="38.5" x2="43.5" y2="38.5" stroke="#1a1a1a" stroke-width="1.1"/>
<text x="36.2" y="42.18" font-family="Liberation Sans" font-size="11" font-weight="bold" text-anchor="end" textLength="22.8" lengthAdjust="spacingAndGlyphs">0.30</text>
<line x1="39" y1="7.5" x2="43.5" y2="7.5" stroke="#1a1a1a" stroke-width="1.1"/>
<text x="36.2" y="11.01" font-family="Liberation Sans" font-size="11" font-weight="bold" text-anchor="end" textLength="22.8" lengthAdjust="spacingAndGlyphs">0.35</text>
<line x1="41.2" y1="209.5" x2="43.5" y2="209.5" stroke="#1a1a1a" stroke-width="1.0"/>
<line x1="41.2" y1="178.5" x2="43.5" y2="178.5" stroke="#1a1a1a" stroke-width="1.0"/>
<line x1="41.2" y1="147.5" x2="43.5" y2="147.5" stroke="#1a1a1a" stroke-width="1.0"/>
<line x1="41.2" y1="116.5" x2="43.5" y2="116.5" stroke="#1a1a1a" stroke-width="1.0"/>
<line x1="41.2" y1="85.5" x2="43.5" y2="85.5" stroke="#1a1a1a" stroke-width="1.0"/>
<line x1="41.2" y1="54.5" x2="43.5" y2="54.5" stroke="#1a1a1a" stroke-width="1.0"/>
<line x1="41.2" y1="22.5" x2="43.5" y2="22.5" stroke="#1a1a1a" stroke-width="1.0"/>
<line x1="44.5" y1="231.5" x2="44.5" y2="236.3" stroke="#1a1a1a" stroke-width="1.1"/>
<text x="44.5" y="248.3" font-family="Liberation Sans" font-size="11.5" font-weight="bold" text-anchor="middle" textLength="6.3" lengthAdjust="spacingAndGlyphs">0</text>
<line x1="77.5" y1="231.5" x2="77.5" y2="236.3" stroke="#1a1a1a" stroke-width="1.1"/>
<text x="77.62" y="248.3" font-family="Liberation Sans" font-size="11.5" font-weight="bold" text-anchor="middle" textLength="18.9" lengthAdjust="spacingAndGlyphs">500</text>
<line x1="110.5" y1="231.5" x2="110.5" y2="236.3" stroke="#1a1a1a" stroke-width="1.1"/>
<text x="110.75" y="248.3" font-family="Liberation Sans" font-size="11.5" font-weight="bold" text-anchor="middle" textLength="25.2" lengthAdjust="spacingAndGlyphs">1000</text>
<line x1="143.5" y1="231.5" x2="143.5" y2="236.3" stroke="#1a1a1a" stroke-width="1.1"/>
<text x="143.88" y="248.3" font-family="Liberation Sans" font-size="11.5" font-weight="bold" text-anchor="middle" textLength="25.2" lengthAdjust="spacingAndGlyphs">1500</text>
<line x1="177.5" y1="231.5" x2="177.5" y2="236.3" stroke="#1a1a1a" stroke-width="1.1"/>
<text x="177" y="248.3" font-family="Liberation Sans" font-size="11.5" font-weight="bold" text-anchor="middle" textLength="25.2" lengthAdjust="spacingAndGlyphs">2000</text>
<line x1="210.5" y1="231.5" x2="210.5" y2="236.3" stroke="#1a1a1a" stroke-width="1.1"/>
<text x="210.12" y="248.3" font-family="Liberation Sans" font-size="11.5" font-weight="bold" text-anchor="middle" textLength="25.2" lengthAdjust="spacingAndGlyphs">2500</text>
<line x1="243.5" y1="231.5" x2="243.5" y2="236.3" stroke="#1a1a1a" stroke-width="1.1"/>
<text x="243.25" y="248.3" font-family="Liberation Sans" font-size="11.5" font-weight="bold" text-anchor="middle" textLength="25.2" lengthAdjust="spacingAndGlyphs">3000</text>
<line x1="276.5" y1="231.5" x2="276.5" y2="236.3" stroke="#1a1a1a" stroke-width="1.1"/>
<text x="276.38" y="248.3" font-family="Liberation Sans" font-size="11.5" font-weight="bold" text-anchor="middle" textLength="25.2" lengthAdjust="spacingAndGlyphs">3500</text>
<line x1="309.5" y1="231.5" x2="309.5" y2="236.3" stroke="#1a1a1a" stroke-width="1.1"/>
<text x="309.5" y="248.3" font-family="Liberation Sans" font-size="11.5" font-weight="bold" text-anchor="middle" textLength="25.2" lengthAdjust="spacingAndGlyphs">4000</text>
<line x1="61.5" y1="231.5" x2="61.5" y2="234" stroke="#1a1a1a" stroke-width="1.0"/>
<line x1="94.5" y1="231.5" x2="94.5" y2="234" stroke="#1a1a1a" stroke-width="1.0"/>
<line x1="127.5" y1="231.5" x2="127.5" y2="234" stroke="#1a1a1a" stroke-width="1.0"/>
<line x1="160.5" y1="231.5" x2="160.5" y2="234" stroke="#1a1a1a" stroke-width="1.0"/>
<line x1="193.5" y1="231.5" x2="193.5" y2="234" stroke="#1a1a1a" stroke-width="1.0"/>
<line x1="226.5" y1="231.5" x2="226.5" y2="234" stroke="#1a1a1a" stroke-width="1.0"/>
<line x1="259.5" y1="231.5" x2="259.5" y2="234" stroke="#1a1a1a" stroke-width="1.0"/>
<line x1="292.5" y1="231.5" x2="292.5" y2="234" stroke="#1a1a1a" stroke-width="1.0"/>
<rect x="65.1" y="20" width="2" height="2" fill="#000"/>
<rect x="65.25" y="34.75" width="1.7" height="1.7" fill="#55c244"/>
<rect x="65.25" y="52.15" width="1.7" height="1.7" fill="#7f8ac8"/>
<text x="79.6" y="25" font-family="Liberation Sans" font-size="11.2" font-weight="bold" text-anchor="start" textLength="22" lengthAdjust="spacingAndGlyphs">SC3</text>
<text x="79.6" y="39.8" font-family="Liberation Sans" font-size="11.2" font-weight="bold" text-anchor="start" textLength="42" lengthAdjust="spacingAndGlyphs">PC<tspan font-size="7.4" dy="3">71</tspan><tspan dy="-3">BM</tspan></text>
<text x="79.6" y="57" font-family="Liberation Sans" font-size="11.2" font-weight="bold" text-anchor="start" textLength="69" lengthAdjust="spacingAndGlyphs">SC3:PC<tspan font-size="7.4" dy="3">71</tspan><tspan dy="-3">BM</tspan></text>
<rect x="430.5" y="153.6" width="14" height="69.7" fill="none" stroke="#959595" stroke-width="1"/>
<rect x="456.3" y="149.4" width="14.1" height="73.9" fill="none" stroke="#959595" stroke-width="1"/>
<rect x="481.8" y="134.6" width="14.2" height="88.7" fill="none" stroke="#959595" stroke-width="1"/>
<rect x="506.8" y="127.7" width="13.8" height="95.6" fill="none" stroke="#959595" stroke-width="1"/>
<rect x="531.7" y="115.3" width="14" height="108" fill="none" stroke="#959595" stroke-width="1"/>
<rect x="556.5" y="103.8" width="13.7" height="119.5" fill="none" stroke="#959595" stroke-width="1"/>
<rect x="582.4" y="78.3" width="14" height="145" fill="none" stroke="#959595" stroke-width="1"/>
<rect x="607.4" y="57.7" width="13.9" height="165.6" fill="none" stroke="#959595" stroke-width="1"/>
<rect x="632.4" y="30.2" width="14.1" height="193.1" fill="none" stroke="#959595" stroke-width="1"/>
<rect x="658.2" y="20.1" width="14" height="203.2" fill="none" stroke="#959595" stroke-width="1"/>
<text x="439.05" y="152.9" font-family="Liberation Serif" font-size="11.5" font-weight="bold" text-anchor="middle" textLength="13.7" lengthAdjust="spacingAndGlyphs">1V</text>
<text x="464.6" y="145.6" font-family="Liberation Serif" font-size="11.5" font-weight="bold" text-anchor="middle" textLength="13.8" lengthAdjust="spacingAndGlyphs">2V</text>
<text x="489.85" y="131.8" font-family="Liberation Serif" font-size="11.5" font-weight="bold" text-anchor="middle" textLength="14.1" lengthAdjust="spacingAndGlyphs">3V</text>
<text x="513.75" y="123.9" font-family="Liberation Serif" font-size="11.5" font-weight="bold" text-anchor="middle" textLength="13.5" lengthAdjust="spacingAndGlyphs">4V</text>
<text x="539.45" y="111.9" font-family="Liberation Serif" font-size="11.5" font-weight="bold" text-anchor="middle" textLength="13.7" lengthAdjust="spacingAndGlyphs">5V</text>
<text x="563.85" y="99.2" font-family="Liberation Serif" font-size="11.5" font-weight="bold" text-anchor="middle" textLength="13.1" lengthAdjust="spacingAndGlyphs">6V</text>
<text x="589.5" y="74" font-family="Liberation Serif" font-size="11.5" font-weight="bold" text-anchor="middle" textLength="13.2" lengthAdjust="spacingAndGlyphs">7V</text>
<text x="614.5" y="52.4" font-family="Liberation Serif" font-size="11.5" font-weight="bold" text-anchor="middle" textLength="13.2" lengthAdjust="spacingAndGlyphs">8V</text>
<text x="640.15" y="25.4" font-family="Liberation Serif" font-size="11.5" font-weight="bold" text-anchor="middle" textLength="14.5" lengthAdjust="spacingAndGlyphs">9V</text>
<text x="665.4" y="14.8" font-family="Liberation Serif" font-size="11.5" font-weight="bold" text-anchor="middle" textLength="18.8" lengthAdjust="spacingAndGlyphs">10V</text>
<polyline points="407,220.6 407.72,220.6 408.44,220.6 409.15,220.6 409.87,220.6 410.59,220.6 411.31,220.6 412.02,220.6 412.74,220.6 413.46,220.6 414.18,220.6 414.89,220.6 415.61,220.6 416.33,220.6 417.05,220.6 417.76,220.6 418.48,220.6 419.2,220.6" fill="none" stroke="#000" stroke-width="1.4" stroke-linejoin="round" stroke-linecap="butt"/>
<path fill="#000" d="M419.34 218.14h2.1v2.1h-2.1zM419.84 218.03h2.1v2.1h-2.1zM420.34 218.17h2.1v2.1h-2.1zM420.84 218.14h2.1v2.1h-2.1zM421.34 217.98h2.1v2.1h-2.1zM421.85 217.89h2.1v2.1h-2.1zM422.35 217.99h2.1v2.1h-2.1zM422.85 218h2.1v2.1h-2.1zM423.35 217.79h2.1v2.1h-2.1zM423.85 217.97h2.1v2.1h-2.1zM424.35 217.77h2.1v2.1h-2.1zM424.85 217.81h2.1v2.1h-2.1zM425.36 217.95h2.1v2.1h-2.1zM425.86 217.6h2.1v2.1h-2.1zM426.36 217.63h2.1v2.1h-2.1zM426.86 217.55h2.1v2.1h-2.1zM427.36 217.5h2.1v2.1h-2.1zM427.86 217.55h2.1v2.1h-2.1zM428.36 217.23h2.1v2.1h-2.1z"/>
<path fill="#000" d="M430.74 214.23h2.1v2.1h-2.1zM431.24 213.98h2.1v2.1h-2.1zM431.74 214.11h2.1v2.1h-2.1zM432.24 214.33h2.1v2.1h-2.1zM432.74 213.97h2.1v2.1h-2.1zM433.24 214.43h2.1v2.1h-2.1zM433.75 214.51h2.1v2.1h-2.1zM434.25 214.41h2.1v2.1h-2.1zM434.75 214.36h2.1v2.1h-2.1zM435.25 214.29h2.1v2.1h-2.1zM435.75 214.26h2.1v2.1h-2.1zM436.25 214.62h2.1v2.1h-2.1zM436.75 214.16h2.1v2.1h-2.1zM437.25 214.32h2.1v2.1h-2.1zM437.75 214.41h2.1v2.1h-2.1zM438.26 214.27h2.1v2.1h-2.1zM438.76 214.17h2.1v2.1h-2.1zM439.26 214.41h2.1v2.1h-2.1zM439.76 214.38h2.1v2.1h-2.1zM440.26 214.13h2.1v2.1h-2.1zM440.76 214.31h2.1v2.1h-2.1zM441.26 214.29h2.1v2.1h-2.1zM441.76 214.37h2.1v2.1h-2.1zM442.26 214.5h2.1v2.1h-2.1z"/>
<path fill="#000" d="M444.64 209.99h2.1v2.1h-2.1zM445.15 209.65h2.1v2.1h-2.1zM445.65 209.8h2.1v2.1h-2.1zM446.16 209.68h2.1v2.1h-2.1zM446.67 209.5h2.1v2.1h-2.1zM447.17 209.8h2.1v2.1h-2.1zM447.68 209.6h2.1v2.1h-2.1zM448.19 209.6h2.1v2.1h-2.1zM448.69 209.3h2.1v2.1h-2.1zM449.2 209.64h2.1v2.1h-2.1zM449.7 209.54h2.1v2.1h-2.1zM450.21 209.6h2.1v2.1h-2.1zM450.72 209.39h2.1v2.1h-2.1zM451.22 209.66h2.1v2.1h-2.1zM451.73 209.45h2.1v2.1h-2.1zM452.24 209.29h2.1v2.1h-2.1zM452.74 209.4h2.1v2.1h-2.1zM453.25 209.39h2.1v2.1h-2.1zM453.76 209.18h2.1v2.1h-2.1zM454.26 209.39h2.1v2.1h-2.1z"/>
<path fill="#000" d="M456.64 206.02h2.1v2.1h-2.1zM457.15 206.1h2.1v2.1h-2.1zM457.67 206.18h2.1v2.1h-2.1zM458.18 206.45h2.1v2.1h-2.1zM458.7 206.1h2.1v2.1h-2.1zM459.21 206.08h2.1v2.1h-2.1zM459.73 206.26h2.1v2.1h-2.1zM460.24 206.22h2.1v2.1h-2.1zM460.76 205.96h2.1v2.1h-2.1zM461.27 206.61h2.1v2.1h-2.1zM461.79 206.43h2.1v2.1h-2.1zM462.3 206.17h2.1v2.1h-2.1zM462.82 206.35h2.1v2.1h-2.1zM463.33 206.52h2.1v2.1h-2.1zM463.85 206.48h2.1v2.1h-2.1zM464.36 206.51h2.1v2.1h-2.1zM464.88 206.65h2.1v2.1h-2.1zM465.39 206.79h2.1v2.1h-2.1zM465.9 206.84h2.1v2.1h-2.1zM466.42 206.76h2.1v2.1h-2.1zM466.93 206.83h2.1v2.1h-2.1zM467.45 206.59h2.1v2.1h-2.1zM467.96 206.64h2.1v2.1h-2.1z"/>
<path fill="#000" d="M470.34 203.33h2.1v2.1h-2.1zM470.86 203.15h2.1v2.1h-2.1zM471.38 203.15h2.1v2.1h-2.1zM471.89 202.91h2.1v2.1h-2.1zM472.41 202.85h2.1v2.1h-2.1zM472.93 202.82h2.1v2.1h-2.1zM473.45 202.42h2.1v2.1h-2.1zM473.97 202.47h2.1v2.1h-2.1zM474.48 202.63h2.1v2.1h-2.1zM475 202.45h2.1v2.1h-2.1zM475.52 202.2h2.1v2.1h-2.1zM476.04 202.29h2.1v2.1h-2.1zM476.56 202.4h2.1v2.1h-2.1zM477.07 202.25h2.1v2.1h-2.1zM477.59 201.79h2.1v2.1h-2.1zM478.11 201.78h2.1v2.1h-2.1zM478.63 201.49h2.1v2.1h-2.1zM479.15 201.58h2.1v2.1h-2.1zM479.66 201.38h2.1v2.1h-2.1z"/>
<path fill="#000" d="M482.01 197.57h2.15v2.15h-2.15zM482.52 197.71h2.15v2.15h-2.15zM483.02 197.57h2.15v2.15h-2.15zM483.52 197.52h2.15v2.15h-2.15zM484.02 197.26h2.15v2.15h-2.15zM484.52 197.62h2.15v2.15h-2.15zM485.02 197.38h2.15v2.15h-2.15zM485.52 197.15h2.15v2.15h-2.15zM486.02 197.34h2.15v2.15h-2.15zM486.52 197.47h2.15v2.15h-2.15zM487.02 197.01h2.15v2.15h-2.15zM487.52 197.26h2.15v2.15h-2.15zM488.02 196.93h2.16v2.16h-2.16zM488.52 197.24h2.16v2.16h-2.16zM489.02 197.15h2.16v2.16h-2.16zM489.52 196.96h2.16v2.16h-2.16zM490.03 196.79h2.16v2.16h-2.16zM490.53 196.66h2.16v2.16h-2.16zM491.03 196.71h2.16v2.16h-2.16zM491.53 196.95h2.16v2.16h-2.16zM492.03 196.82h2.16v2.16h-2.16zM492.53 196.72h2.16v2.16h-2.16zM493.03 196.58h2.16v2.16h-2.16zM493.53 196.6h2.16v2.16h-2.16z"/>
<path fill="#000" d="M495.87 192.12h2.23v2.23h-2.23zM496.38 191.43h2.24v2.24h-2.24zM496.88 191.71h2.24v2.24h-2.24zM497.39 191.68h2.24v2.24h-2.24zM497.9 191.35h2.24v2.24h-2.24zM498.4 191.35h2.24v2.24h-2.24zM498.91 191.3h2.25v2.25h-2.25zM499.42 191h2.25v2.25h-2.25zM499.92 190.88h2.25v2.25h-2.25zM500.43 190.71h2.25v2.25h-2.25zM500.93 190.69h2.25v2.25h-2.25zM501.44 190.77h2.25v2.25h-2.25zM501.95 190.82h2.26v2.26h-2.26zM502.45 190.53h2.26v2.26h-2.26zM502.96 190.38h2.26v2.26h-2.26zM503.47 190.15h2.26v2.26h-2.26zM503.97 190.25h2.26v2.26h-2.26zM504.48 190.02h2.26v2.26h-2.26z"/>
<path fill="#000" d="M506.8 183.71h2.37v2.37h-2.37zM507.31 183.42h2.37v2.37h-2.37zM507.81 183.62h2.37v2.37h-2.37zM508.31 183.47h2.37v2.37h-2.37zM508.81 183.34h2.37v2.37h-2.37zM509.31 183.38h2.37v2.37h-2.37zM509.81 183.1h2.37v2.37h-2.37zM510.31 183.45h2.37v2.37h-2.37zM510.81 183.21h2.37v2.37h-2.37zM511.31 183.04h2.37v2.37h-2.37zM511.81 183.23h2.37v2.37h-2.37zM512.31 183.41h2.37v2.37h-2.37zM512.81 183.17h2.37v2.37h-2.37zM513.32 182.57h2.37v2.37h-2.37zM513.82 182.98h2.37v2.37h-2.37zM514.32 183.11h2.37v2.37h-2.37zM514.82 183.2h2.37v2.37h-2.37zM515.32 182.85h2.37v2.37h-2.37zM515.82 183.11h2.37v2.37h-2.37zM516.32 183.18h2.37v2.37h-2.37zM516.82 183.11h2.37v2.37h-2.37zM517.32 182.54h2.37v2.37h-2.37zM517.82 182.79h2.37v2.37h-2.37zM518.32 182.74h2.38v2.38h-2.38z"/>
<path fill="#000" d="M520.64 175.4h2.49v2.49h-2.49zM521.16 175.46h2.49v2.49h-2.49zM521.67 175.76h2.49v2.49h-2.49zM522.18 175.35h2.49v2.49h-2.49zM522.69 174.98h2.49v2.49h-2.49zM523.21 174.84h2.49v2.49h-2.49zM523.72 175.35h2.5v2.5h-2.5zM524.23 174.83h2.5v2.5h-2.5zM524.74 174.98h2.5v2.5h-2.5zM525.26 175.4h2.5v2.5h-2.5zM525.77 175.37h2.5v2.5h-2.5zM526.28 175.31h2.5v2.5h-2.5zM526.8 174.45h2.5v2.5h-2.5zM527.31 175.24h2.5v2.5h-2.5zM527.82 174.66h2.5v2.5h-2.5zM528.33 174.93h2.5v2.5h-2.5zM528.85 174.55h2.51v2.51h-2.51zM529.36 174.83h2.51v2.51h-2.51z"/>
<path fill="#000" d="M531.68 167.17h2.62v2.62h-2.62zM532.18 167.26h2.62v2.62h-2.62zM532.68 167.26h2.62v2.62h-2.62zM533.18 167.09h2.62v2.62h-2.62zM533.68 167.46h2.62v2.62h-2.62zM534.19 167.83h2.61v2.61h-2.61zM534.69 167.22h2.61v2.61h-2.61zM535.19 167.72h2.61v2.61h-2.61zM535.69 167.4h2.61v2.61h-2.61zM536.19 167.42h2.61v2.61h-2.61zM536.69 167.36h2.61v2.61h-2.61zM537.2 168.58h2.61v2.61h-2.61zM537.7 168.11h2.61v2.61h-2.61zM538.2 168.01h2.61v2.61h-2.61zM538.7 168.54h2.6v2.6h-2.6zM539.2 167.57h2.6v2.6h-2.6zM539.7 168.36h2.6v2.6h-2.6zM540.21 168.21h2.6v2.6h-2.6zM540.71 168.71h2.6v2.6h-2.6zM541.21 168.11h2.6v2.6h-2.6zM541.71 168.67h2.6v2.6h-2.6zM542.21 168.69h2.6v2.6h-2.6zM542.71 169.25h2.59v2.59h-2.59zM543.22 168.68h2.59v2.59h-2.59z"/>
<path fill="#000" d="M545.51 158.25h2.76v2.76h-2.76zM546.01 158.54h2.76v2.76h-2.76zM546.51 158.63h2.75v2.75h-2.75zM547.02 158.78h2.75v2.75h-2.75zM547.52 158.7h2.75v2.75h-2.75zM548.02 158.36h2.75v2.75h-2.75zM548.52 159.35h2.75v2.75h-2.75zM549.02 159.66h2.75v2.75h-2.75zM549.53 159.09h2.75v2.75h-2.75zM550.03 158.89h2.74v2.74h-2.74zM550.53 159.66h2.74v2.74h-2.74zM551.03 158.97h2.74v2.74h-2.74zM551.54 159.54h2.74v2.74h-2.74zM552.04 158.92h2.74v2.74h-2.74zM552.54 160.18h2.74v2.74h-2.74zM553.04 159.27h2.73v2.73h-2.73zM553.54 159.95h2.73v2.73h-2.73zM554.05 159.68h2.73v2.73h-2.73z"/>
<path fill="#000" d="M556.37 152.69h2.84v2.84h-2.84zM556.87 152.36h2.84v2.84h-2.84zM557.38 152.86h2.84v2.84h-2.84zM557.88 152.4h2.84v2.84h-2.84zM558.39 153.3h2.84v2.84h-2.84zM558.9 152.5h2.84v2.84h-2.84zM559.4 152.85h2.84v2.84h-2.84zM559.91 153.21h2.84v2.84h-2.84zM560.41 153.21h2.84v2.84h-2.84zM560.92 153.28h2.84v2.84h-2.84zM561.42 153.35h2.84v2.84h-2.84zM561.93 153.06h2.84v2.84h-2.84zM562.44 153.2h2.84v2.84h-2.84zM562.94 153.29h2.84v2.84h-2.84zM563.45 152.32h2.84v2.84h-2.84zM563.95 152.89h2.84v2.84h-2.84zM564.46 152.91h2.84v2.84h-2.84zM564.96 152.84h2.84v2.84h-2.84zM565.47 153.15h2.84v2.84h-2.84zM565.97 152.46h2.84v2.84h-2.84zM566.48 152.27h2.84v2.84h-2.84zM566.99 152.63h2.84v2.84h-2.84zM567.49 153.11h2.84v2.84h-2.84z"/>
<path fill="#000" d="M570.3 138.54h2.97v2.97h-2.97zM570.81 137.72h2.97v2.97h-2.97zM571.32 139.34h2.97v2.97h-2.97zM571.82 139.24h2.97v2.97h-2.97zM572.33 138.81h2.97v2.97h-2.97zM572.84 138.29h2.97v2.97h-2.97zM573.34 138.16h2.97v2.97h-2.97zM573.85 137.68h2.97v2.97h-2.97zM574.36 137.85h2.97v2.97h-2.97zM574.86 138.82h2.97v2.97h-2.97zM575.37 138.3h2.97v2.97h-2.97zM575.87 139.15h2.97v2.97h-2.97zM576.38 138.56h2.97v2.97h-2.97zM576.89 137.64h2.97v2.97h-2.97zM577.39 138.88h2.97v2.97h-2.97zM577.9 139.63h2.97v2.97h-2.97zM578.41 139.09h2.97v2.97h-2.97zM578.91 138.68h2.97v2.97h-2.97zM579.42 138.75h2.97v2.97h-2.97zM579.93 139.45h2.97v2.97h-2.97z"/>
<path fill="#000" d="M582.3 131.6h2.97v2.97h-2.97zM582.82 131.77h2.97v2.97h-2.97zM583.34 132.56h2.97v2.97h-2.97zM583.86 132.61h2.97v2.97h-2.97zM584.38 132.32h2.97v2.97h-2.97zM584.9 132.27h2.97v2.97h-2.97zM585.42 133.05h2.97v2.97h-2.97zM585.94 132.06h2.97v2.97h-2.97zM586.46 132.73h2.97v2.97h-2.97zM586.98 132.88h2.97v2.97h-2.97zM587.5 134.13h2.97v2.97h-2.97zM588.01 132.84h2.97v2.97h-2.97zM588.53 133.75h2.97v2.97h-2.97zM589.05 133.28h2.97v2.97h-2.97zM589.57 133.9h2.97v2.97h-2.97zM590.09 133.99h2.97v2.97h-2.97zM590.61 133.1h2.97v2.97h-2.97zM591.13 133.29h2.97v2.97h-2.97zM591.65 132.69h2.97v2.97h-2.97zM592.17 132.9h2.97v2.97h-2.97zM592.69 133.41h2.97v2.97h-2.97zM593.21 132.37h2.97v2.97h-2.97zM593.73 132.56h2.97v2.97h-2.97z"/>
<path fill="#000" d="M596.19 121.63h3.06v3.06h-3.06zM596.7 120.59h3.06v3.06h-3.06zM597.2 119.71h3.06v3.06h-3.06zM597.7 117.85h3.06v3.06h-3.06zM598.21 118.06h3.06v3.06h-3.06zM598.71 117.35h3.06v3.06h-3.06zM599.21 117.27h3.06v3.06h-3.06zM599.72 118.03h3.06v3.06h-3.06zM600.22 119.13h3.06v3.06h-3.06zM600.72 120.56h3.06v3.06h-3.06zM601.22 119.29h3.06v3.06h-3.06zM601.73 120.09h3.06v3.06h-3.06zM602.23 121.3h3.06v3.06h-3.06zM602.73 119.71h3.06v3.06h-3.06zM603.24 120.37h3.06v3.06h-3.06zM603.74 120.48h3.06v3.06h-3.06zM604.24 120.38h3.06v3.06h-3.06zM604.75 120.38h3.06v3.06h-3.06z"/>
<path fill="#000" d="M607.3 113.1h2.97v2.97h-2.97zM607.8 113.13h2.97v2.97h-2.97zM608.31 113.57h2.97v2.97h-2.97zM608.81 113.95h2.97v2.97h-2.97zM609.31 112.25h2.97v2.97h-2.97zM609.81 113.12h2.97v2.97h-2.97zM610.31 112.99h2.97v2.97h-2.97zM610.81 112.76h2.97v2.97h-2.97zM611.31 113.25h2.97v2.97h-2.97zM611.81 112.44h2.97v2.97h-2.97zM612.31 112.71h2.97v2.97h-2.97zM612.81 111.57h2.97v2.97h-2.97zM613.32 111.2h2.97v2.97h-2.97zM613.82 112.39h2.97v2.97h-2.97zM614.32 111.74h2.97v2.97h-2.97zM614.82 110.85h2.97v2.97h-2.97zM615.32 111.34h2.97v2.97h-2.97zM615.82 111.67h2.97v2.97h-2.97zM616.32 110.74h2.97v2.97h-2.97zM616.82 111.22h2.97v2.97h-2.97zM617.32 110.24h2.97v2.97h-2.97zM617.83 111.08h2.97v2.97h-2.97zM618.33 110.81h2.97v2.97h-2.97z"/>
<path fill="#000" d="M621.2 99.16h2.97v2.97h-2.97zM621.7 98.76h2.97v2.97h-2.97zM622.21 98.5h2.97v2.97h-2.97zM622.71 98.89h2.97v2.97h-2.97zM623.21 98.51h2.97v2.97h-2.97zM623.71 96.55h2.97v2.97h-2.97zM624.21 96.71h2.97v2.97h-2.97zM624.71 96.82h2.97v2.97h-2.97zM625.21 96.64h2.97v2.97h-2.97zM625.72 95.81h2.97v2.97h-2.97zM626.22 96.47h2.97v2.97h-2.97zM626.72 96.99h2.97v2.97h-2.97zM627.22 94.92h2.97v2.97h-2.97zM627.72 94.65h2.97v2.97h-2.97zM628.22 94.95h2.97v2.97h-2.97zM628.72 95.16h2.97v2.97h-2.97zM629.23 94.72h2.97v2.97h-2.97zM629.73 94.07h2.97v2.97h-2.97z"/>
<path fill="#000" d="M632.73 87.96h2.7v2.7h-2.7zM633.23 86.4h2.7v2.7h-2.7zM633.73 84.51h2.7v2.7h-2.7zM634.24 82.57h2.7v2.7h-2.7zM634.74 81.05h2.7v2.7h-2.7zM635.24 82.24h2.7v2.7h-2.7zM635.74 82.8h2.7v2.7h-2.7zM636.24 84.13h2.7v2.7h-2.7zM636.74 84.87h2.7v2.7h-2.7zM637.25 86.95h2.7v2.7h-2.7zM637.75 87.17h2.7v2.7h-2.7zM638.25 87.31h2.7v2.7h-2.7zM638.75 88.27h2.7v2.7h-2.7zM639.25 87.7h2.7v2.7h-2.7zM639.76 87.97h2.7v2.7h-2.7zM640.26 88.12h2.7v2.7h-2.7zM640.76 87.29h2.7v2.7h-2.7zM641.26 88.19h2.7v2.7h-2.7zM641.76 86.68h2.7v2.7h-2.7zM642.26 87.55h2.7v2.7h-2.7zM642.77 86.92h2.7v2.7h-2.7zM643.27 86.06h2.7v2.7h-2.7zM643.77 85.29h2.7v2.7h-2.7z"/>
<polyline points="646.5,215.9 647.21,215.94 647.93,215.8 648.64,215.88 649.36,215.81 650.07,215.66 650.79,215.63 651.5,215.7 652.21,215.7 652.93,215.55 653.64,215.56 654.36,215.59 655.07,215.47 655.79,215.55 656.5,215.46 657.21,215.36 657.93,215.38 658.64,215.38 659.36,215.32 660.07,215.33 660.79,215.21 661.5,215.29 662.21,215.19 662.93,215.2 663.64,215.17 664.36,215.1 665.07,215.06 665.79,215.1 666.5,215.09 667.21,215.03 667.93,214.97 668.64,214.89 669.36,214.82 670.07,214.94 670.79,214.86 671.5,214.8" fill="none" stroke="#000" stroke-width="2.6" stroke-linejoin="round" stroke-linecap="butt"/>
<polyline points="407,220.9 407.72,220.9 408.44,220.9 409.15,220.9 409.87,220.9 410.59,220.9 411.31,220.9 412.02,220.9 412.74,220.9 413.46,220.9 414.18,220.9 414.89,220.9 415.61,220.9 416.33,220.9 417.05,220.9 417.76,220.9 418.48,220.9 419.2,220.9" fill="none" stroke="#55c244" stroke-width="1.5" stroke-linejoin="round" stroke-linecap="butt"/>
<path fill="#55c244" d="M419.33 215.6h1.97v1.97h-1.97zM419.84 215.76h1.97v1.97h-1.97zM420.35 215.4h1.97v1.97h-1.97zM420.86 215.49h1.97v1.97h-1.97zM421.37 215.65h1.97v1.97h-1.97zM421.88 215.59h1.97v1.97h-1.97zM422.39 215.74h1.97v1.97h-1.97zM422.9 215.4h1.97v1.97h-1.97zM423.41 215.73h1.97v1.97h-1.97zM423.92 215.48h1.97v1.97h-1.97zM424.42 215.58h1.97v1.97h-1.97zM424.93 215.88h1.97v1.97h-1.97zM425.44 215.69h1.97v1.97h-1.97zM425.95 215.42h1.97v1.97h-1.97zM426.46 215.72h1.97v1.97h-1.97zM426.97 215.55h1.97v1.97h-1.97zM427.48 215.76h1.97v1.97h-1.97zM427.99 215.7h1.97v1.97h-1.97zM428.5 215.64h1.97v1.97h-1.97z"/>
<path fill="#55c244" d="M430.73 212.61h1.97v1.97h-1.97zM431.24 212.69h1.97v1.97h-1.97zM431.75 212.37h1.97v1.97h-1.97zM432.25 212.7h1.97v1.97h-1.97zM432.76 212.85h1.97v1.97h-1.97zM433.27 212.6h1.97v1.97h-1.97zM433.77 212.52h1.97v1.97h-1.97zM434.28 212.68h1.97v1.97h-1.97zM434.79 212.74h1.97v1.97h-1.97zM435.3 212.64h1.97v1.97h-1.97zM435.8 212.39h1.97v1.97h-1.97zM436.31 212.56h1.97v1.97h-1.97zM436.82 212.63h1.97v1.97h-1.97zM437.33 212.68h1.97v1.97h-1.97zM437.83 212.38h1.97v1.97h-1.97zM438.34 212.61h1.97v1.97h-1.97zM438.85 212.76h1.97v1.97h-1.97zM439.36 212.8h1.97v1.97h-1.97zM439.86 212.4h1.97v1.97h-1.97zM440.37 212.41h1.97v1.97h-1.97zM440.88 212.53h1.97v1.97h-1.97zM441.38 212.47h1.97v1.97h-1.97zM441.89 212.49h1.97v1.97h-1.97zM442.4 212.56h1.97v1.97h-1.97z"/>
<path fill="#55c244" d="M444.63 207.49h1.97v1.97h-1.97zM445.15 207.38h1.97v1.97h-1.97zM445.66 207.29h1.97v1.97h-1.97zM446.17 207.29h1.97v1.97h-1.97zM446.69 207.36h1.97v1.97h-1.97zM447.2 207.34h1.97v1.97h-1.97zM447.72 207.41h1.97v1.97h-1.97zM448.23 207.75h1.97v1.97h-1.97zM448.74 207.54h1.97v1.97h-1.97zM449.26 207.37h1.97v1.97h-1.97zM449.77 207.46h1.97v1.97h-1.97zM450.29 207.26h1.97v1.97h-1.97zM450.8 207.24h1.97v1.97h-1.97zM451.31 207.52h1.97v1.97h-1.97zM451.83 207.57h1.97v1.97h-1.97zM452.34 207.32h1.97v1.97h-1.97zM452.86 207.55h1.97v1.97h-1.97zM453.37 207.45h1.97v1.97h-1.97zM453.89 207.42h1.97v1.97h-1.97zM454.4 207.69h1.97v1.97h-1.97z"/>
<path fill="#55c244" d="M456.63 202.95h1.97v1.97h-1.97zM457.15 202.81h1.97v1.97h-1.97zM457.67 203.02h1.97v1.97h-1.97zM458.19 203.02h1.97v1.97h-1.97zM458.72 203.29h1.97v1.97h-1.97zM459.24 202.79h1.97v1.97h-1.97zM459.76 203.25h1.97v1.97h-1.97zM460.28 203.15h1.97v1.97h-1.97zM460.8 202.9h1.97v1.97h-1.97zM461.32 203.27h1.97v1.97h-1.97zM461.84 203.17h1.97v1.97h-1.97zM462.37 203.3h1.97v1.97h-1.97zM462.89 203.26h1.97v1.97h-1.97zM463.41 203.28h1.97v1.97h-1.97zM463.93 203.33h1.97v1.97h-1.97zM464.45 203.47h1.97v1.97h-1.97zM464.97 203.38h1.97v1.97h-1.97zM465.49 203.45h1.97v1.97h-1.97zM466.01 203.27h1.97v1.97h-1.97zM466.54 203.68h1.97v1.97h-1.97zM467.06 203.32h1.97v1.97h-1.97zM467.58 203.61h1.97v1.97h-1.97zM468.1 203.54h1.97v1.97h-1.97z"/>
<path fill="#55c244" d="M470.31 198.23h2.01v2.01h-2.01zM470.84 198.34h2.01v2.01h-2.01zM471.36 198.41h2.01v2.01h-2.01zM471.89 198.27h2.01v2.01h-2.01zM472.42 198.1h2.01v2.01h-2.01zM472.94 198.21h2.01v2.01h-2.01zM473.47 198.51h2.01v2.01h-2.01zM473.99 198.23h2.01v2.01h-2.01zM474.52 198.17h2.01v2.01h-2.01zM475.05 198.4h2.01v2.01h-2.01zM475.57 198.5h2.01v2.01h-2.01zM476.1 198.62h2.01v2.01h-2.01zM476.62 198.4h2.01v2.01h-2.01zM477.15 198.29h2.01v2.01h-2.01zM477.68 198.41h2.01v2.01h-2.01zM478.2 198.32h2.01v2.01h-2.01zM478.73 198.1h2.01v2.01h-2.01zM479.25 198.56h2.01v2.01h-2.01zM479.78 198.53h2.01v2.01h-2.01z"/>
<path fill="#55c244" d="M481.97 192.57h2.09v2.09h-2.09zM482.48 193.03h2.09v2.09h-2.09zM482.99 192.78h2.09v2.09h-2.09zM483.49 192.58h2.09v2.09h-2.09zM484 192.35h2.09v2.09h-2.09zM484.51 192.63h2.09v2.09h-2.09zM485.01 192.52h2.09v2.09h-2.09zM485.52 192.67h2.09v2.09h-2.09zM486.03 192.69h2.09v2.09h-2.09zM486.53 192.66h2.09v2.09h-2.09zM487.04 192.26h2.1v2.1h-2.1zM487.55 192.25h2.1v2.1h-2.1zM488.06 192.52h2.1v2.1h-2.1zM488.56 192.25h2.1v2.1h-2.1zM489.07 192.11h2.1v2.1h-2.1zM489.58 192.1h2.1v2.1h-2.1zM490.08 192.25h2.1v2.1h-2.1zM490.59 192.23h2.1v2.1h-2.1zM491.1 192.19h2.1v2.1h-2.1zM491.6 192.07h2.1v2.1h-2.1zM492.11 192.08h2.1v2.1h-2.1zM492.62 192.09h2.1v2.1h-2.1zM493.13 192.1h2.1v2.1h-2.1zM493.63 192.13h2.1v2.1h-2.1z"/>
<path fill="#55c244" d="M495.83 186.65h2.18v2.18h-2.18zM496.34 186.6h2.18v2.18h-2.18zM496.86 186.59h2.18v2.18h-2.18zM497.37 186.63h2.18v2.18h-2.18zM497.89 186.38h2.18v2.18h-2.18zM498.4 186.8h2.18v2.18h-2.18zM498.92 186.19h2.18v2.18h-2.18zM499.43 186.41h2.18v2.18h-2.18zM499.95 186.2h2.18v2.18h-2.18zM500.47 186.14h2.18v2.18h-2.18zM500.98 186.23h2.19v2.19h-2.19zM501.5 186.53h2.19v2.19h-2.19zM502.01 185.93h2.19v2.19h-2.19zM502.53 185.9h2.19v2.19h-2.19zM503.04 185.85h2.19v2.19h-2.19zM503.56 185.76h2.19v2.19h-2.19zM504.07 186.28h2.19v2.19h-2.19zM504.59 185.59h2.19v2.19h-2.19z"/>
<path fill="#55c244" d="M506.77 178.69h2.3v2.3h-2.3zM507.28 178.84h2.29v2.29h-2.29zM507.78 178.95h2.29v2.29h-2.29zM508.29 179.28h2.29v2.29h-2.29zM508.8 179.12h2.29v2.29h-2.29zM509.31 178.93h2.29v2.29h-2.29zM509.82 179.1h2.29v2.29h-2.29zM510.32 179.4h2.29v2.29h-2.29zM510.83 179.22h2.28v2.28h-2.28zM511.34 179.35h2.28v2.28h-2.28zM511.85 179.67h2.28v2.28h-2.28zM512.36 179.64h2.28v2.28h-2.28zM512.86 180.29h2.28v2.28h-2.28zM513.37 179.84h2.28v2.28h-2.28zM513.88 180.16h2.27v2.27h-2.27zM514.39 179.92h2.27v2.27h-2.27zM514.9 180.27h2.27v2.27h-2.27zM515.41 180.47h2.27v2.27h-2.27zM515.91 180.4h2.27v2.27h-2.27zM516.42 180.67h2.27v2.27h-2.27zM516.93 180.68h2.27v2.27h-2.27zM517.44 181.1h2.26v2.26h-2.26zM517.95 180.69h2.26v2.26h-2.26zM518.45 181.1h2.26v2.26h-2.26z"/>
<path fill="#55c244" d="M520.63 173.01h2.38v2.38h-2.38zM521.15 172.58h2.38v2.38h-2.38zM521.67 172.8h2.38v2.38h-2.38zM522.19 172.6h2.38v2.38h-2.38zM522.71 172.73h2.38v2.38h-2.38zM523.23 173.14h2.39v2.39h-2.39zM523.75 172.29h2.39v2.39h-2.39zM524.27 172.41h2.39v2.39h-2.39zM524.8 172.17h2.39v2.39h-2.39zM525.32 172.02h2.39v2.39h-2.39zM525.84 172.73h2.39v2.39h-2.39zM526.36 172.51h2.39v2.39h-2.39zM526.88 172.18h2.39v2.39h-2.39zM527.4 171.73h2.39v2.39h-2.39zM527.92 172.64h2.39v2.39h-2.39zM528.44 172.37h2.39v2.39h-2.39zM528.96 171.83h2.39v2.39h-2.39zM529.49 171.63h2.4v2.4h-2.4z"/>
<path fill="#55c244" d="M531.64 160.75h2.56v2.56h-2.56zM532.14 161.24h2.56v2.56h-2.56zM532.65 160.55h2.56v2.56h-2.56zM533.16 160.3h2.56v2.56h-2.56zM533.67 160.47h2.56v2.56h-2.56zM534.17 159.76h2.56v2.56h-2.56zM534.68 160.79h2.56v2.56h-2.56zM535.19 160.55h2.56v2.56h-2.56zM535.69 160.9h2.56v2.56h-2.56zM536.2 160.56h2.56v2.56h-2.56zM536.71 160.57h2.56v2.56h-2.56zM537.22 160.45h2.56v2.56h-2.56zM537.72 159.79h2.56v2.56h-2.56zM538.23 160.39h2.56v2.56h-2.56zM538.74 160.46h2.56v2.56h-2.56zM539.24 160.73h2.56v2.56h-2.56zM539.75 160.55h2.56v2.56h-2.56zM540.26 159.98h2.56v2.56h-2.56zM540.77 160.26h2.56v2.56h-2.56zM541.27 160.37h2.56v2.56h-2.56zM541.78 160.69h2.56v2.56h-2.56zM542.29 160.02h2.56v2.56h-2.56zM542.79 159.54h2.56v2.56h-2.56zM543.3 159.95h2.56v2.56h-2.56z"/>
<path fill="#55c244" d="M545.47 151.67h2.69v2.69h-2.69zM545.98 152.39h2.69v2.69h-2.69zM546.49 152.03h2.69v2.69h-2.69zM547 151.19h2.69v2.69h-2.69zM547.51 152.07h2.69v2.69h-2.69zM548.02 152.39h2.69v2.69h-2.69zM548.53 151.92h2.69v2.69h-2.69zM549.04 151.24h2.69v2.69h-2.69zM549.55 152.3h2.69v2.69h-2.69zM550.06 151.91h2.69v2.69h-2.69zM550.57 151.21h2.69v2.69h-2.69zM551.08 152.45h2.69v2.69h-2.69zM551.59 151.61h2.69v2.69h-2.69zM552.1 150.67h2.69v2.69h-2.69zM552.61 151.6h2.69v2.69h-2.69zM553.12 151.43h2.69v2.69h-2.69zM553.63 151.69h2.69v2.69h-2.69zM554.14 151.6h2.69v2.69h-2.69z"/>
<path fill="#55c244" d="M556.32 142.19h2.79v2.79h-2.79zM556.83 142.63h2.79v2.79h-2.79zM557.35 142.63h2.79v2.79h-2.79zM557.86 142.06h2.79v2.79h-2.79zM558.37 141.92h2.79v2.79h-2.79zM558.88 141.3h2.79v2.79h-2.79zM559.39 141.57h2.79v2.79h-2.79zM559.91 141.25h2.79v2.79h-2.79zM560.42 141.3h2.79v2.79h-2.79zM560.93 140.98h2.79v2.79h-2.79zM561.44 140.2h2.79v2.79h-2.79zM561.96 141.12h2.79v2.79h-2.79zM562.47 140.4h2.79v2.79h-2.79zM562.98 140.44h2.79v2.79h-2.79zM563.49 139.96h2.79v2.79h-2.79zM564 140.23h2.79v2.79h-2.79zM564.52 139.92h2.79v2.79h-2.79zM565.03 140.7h2.79v2.79h-2.79zM565.54 138.97h2.79v2.79h-2.79zM566.05 139.07h2.79v2.79h-2.79zM566.56 139.47h2.79v2.79h-2.79zM567.08 138.75h2.79v2.79h-2.79zM567.59 139.04h2.79v2.79h-2.79z"/>
<path fill="#55c244" d="M569.82 131.58h2.79v2.79h-2.79zM570.33 130.22h2.79v2.79h-2.79zM570.85 129.73h2.79v2.79h-2.79zM571.36 129.57h2.79v2.79h-2.79zM571.87 129.29h2.79v2.79h-2.79zM572.39 129.06h2.79v2.79h-2.79zM572.9 128.73h2.79v2.79h-2.79zM573.41 128.42h2.79v2.79h-2.79zM573.93 128.92h2.79v2.79h-2.79zM574.44 128.58h2.79v2.79h-2.79zM574.96 128.05h2.79v2.79h-2.79zM575.47 127.93h2.79v2.79h-2.79zM575.98 127.45h2.79v2.79h-2.79zM576.5 127.75h2.79v2.79h-2.79zM577.01 127.56h2.79v2.79h-2.79zM577.52 128.32h2.79v2.79h-2.79zM578.04 129.31h2.79v2.79h-2.79zM578.55 129.3h2.79v2.79h-2.79zM579.06 128.89h2.79v2.79h-2.79zM579.58 128.95h2.79v2.79h-2.79zM580.09 129.62h2.79v2.79h-2.79z"/>
<path fill="#55c244" d="M582.32 120.3h2.79v2.79h-2.79zM582.82 119.12h2.79v2.79h-2.79zM583.33 119.05h2.79v2.79h-2.79zM583.83 119.07h2.79v2.79h-2.79zM584.33 118.92h2.79v2.79h-2.79zM584.84 118.85h2.79v2.79h-2.79zM585.34 118.78h2.79v2.79h-2.79zM585.84 118.34h2.79v2.79h-2.79zM586.34 117.84h2.79v2.79h-2.79zM586.85 117.23h2.79v2.79h-2.79zM587.35 117.43h2.79v2.79h-2.79zM587.85 118.05h2.79v2.79h-2.79zM588.36 118.2h2.79v2.79h-2.79zM588.86 117.86h2.79v2.79h-2.79zM589.36 117.35h2.79v2.79h-2.79zM589.87 116.85h2.79v2.79h-2.79zM590.37 118.09h2.79v2.79h-2.79zM590.87 117.31h2.79v2.79h-2.79zM591.37 117.77h2.79v2.79h-2.79zM591.88 118.64h2.79v2.79h-2.79zM592.38 117.71h2.79v2.79h-2.79zM592.88 117.9h2.79v2.79h-2.79zM593.39 118.44h2.79v2.79h-2.79zM593.89 117.99h2.79v2.79h-2.79z"/>
<path fill="#55c244" d="M596.12 109.38h2.79v2.79h-2.79zM596.65 109.66h2.79v2.79h-2.79zM597.18 108.64h2.79v2.79h-2.79zM597.7 109.33h2.79v2.79h-2.79zM598.23 108.08h2.79v2.79h-2.79zM598.76 108.49h2.79v2.79h-2.79zM599.29 108.17h2.79v2.79h-2.79zM599.81 107.05h2.79v2.79h-2.79zM600.34 107.94h2.79v2.79h-2.79zM600.87 108.26h2.79v2.79h-2.79zM601.4 107.7h2.79v2.79h-2.79zM601.92 107.16h2.79v2.79h-2.79zM602.45 107.91h2.79v2.79h-2.79zM602.98 107.13h2.79v2.79h-2.79zM603.51 107.8h2.79v2.79h-2.79zM604.03 107.7h2.79v2.79h-2.79zM604.56 107.36h2.79v2.79h-2.79zM605.09 106.95h2.79v2.79h-2.79z"/>
<path fill="#55c244" d="M607.32 94.91h2.79v2.79h-2.79zM607.84 95.59h2.79v2.79h-2.79zM608.36 95.66h2.79v2.79h-2.79zM608.88 94.83h2.79v2.79h-2.79zM609.41 93.52h2.79v2.79h-2.79zM609.93 93.93h2.79v2.79h-2.79zM610.45 93.78h2.79v2.79h-2.79zM610.97 95h2.79v2.79h-2.79zM611.49 93.6h2.79v2.79h-2.79zM612.01 94.76h2.79v2.79h-2.79zM612.53 94.18h2.79v2.79h-2.79zM613.06 93.89h2.79v2.79h-2.79zM613.58 94.54h2.79v2.79h-2.79zM614.1 93.7h2.79v2.79h-2.79zM614.62 94.25h2.79v2.79h-2.79zM615.14 94.16h2.79v2.79h-2.79zM615.66 93.23h2.79v2.79h-2.79zM616.18 93.43h2.79v2.79h-2.79zM616.7 93.89h2.79v2.79h-2.79zM617.23 92.24h2.79v2.79h-2.79zM617.75 93.61h2.79v2.79h-2.79zM618.27 92.99h2.79v2.79h-2.79zM618.79 93.37h2.79v2.79h-2.79z"/>
<path fill="#55c244" d="M621.02 73.3h2.79v2.79h-2.79zM621.54 73.52h2.79v2.79h-2.79zM622.06 74.07h2.79v2.79h-2.79zM622.59 75.25h2.79v2.79h-2.79zM623.11 76.35h2.79v2.79h-2.79zM623.63 77.51h2.79v2.79h-2.79zM624.15 77.83h2.79v2.79h-2.79zM624.67 79.24h2.79v2.79h-2.79zM625.19 79.43h2.79v2.79h-2.79zM625.72 79.64h2.79v2.79h-2.79zM626.24 79.87h2.79v2.79h-2.79zM626.76 80.05h2.79v2.79h-2.79zM627.28 79.63h2.79v2.79h-2.79zM627.8 80.31h2.79v2.79h-2.79zM628.32 80.28h2.79v2.79h-2.79zM628.85 80.62h2.79v2.79h-2.79zM629.37 79.77h2.79v2.79h-2.79zM629.89 80.51h2.79v2.79h-2.79z"/>
<path fill="#55c244" d="M632.12 67.46h2.79v2.79h-2.79zM632.64 67.3h2.79v2.79h-2.79zM633.16 67.26h2.79v2.79h-2.79zM633.68 66.96h2.79v2.79h-2.79zM634.2 66.85h2.79v2.79h-2.79zM634.72 66.26h2.79v2.79h-2.79zM635.24 65.92h2.79v2.79h-2.79zM635.76 66.09h2.79v2.79h-2.79zM636.28 65.66h2.79v2.79h-2.79zM636.8 65.89h2.79v2.79h-2.79zM637.32 65.59h2.79v2.79h-2.79zM637.84 65.66h2.79v2.79h-2.79zM638.37 64.67h2.79v2.79h-2.79zM638.89 65.04h2.79v2.79h-2.79zM639.41 65.14h2.79v2.79h-2.79zM639.93 65.29h2.79v2.79h-2.79zM640.45 64.91h2.79v2.79h-2.79zM640.97 66.29h2.79v2.79h-2.79zM641.49 65.75h2.79v2.79h-2.79zM642.01 66.4h2.79v2.79h-2.79zM642.53 65.59h2.79v2.79h-2.79zM643.05 66.1h2.79v2.79h-2.79zM643.57 66.58h2.79v2.79h-2.79zM644.09 66.3h2.79v2.79h-2.79z"/>
<path fill="#55c244" d="M646.32 54.55h2.79v2.79h-2.79zM646.82 54.44h2.79v2.79h-2.79zM647.33 55.72h2.79v2.79h-2.79zM647.83 55.45h2.79v2.79h-2.79zM648.34 55.11h2.79v2.79h-2.79zM648.84 55.51h2.79v2.79h-2.79zM649.34 55.27h2.79v2.79h-2.79zM649.85 56.14h2.79v2.79h-2.79zM650.35 55.99h2.79v2.79h-2.79zM650.85 55.96h2.79v2.79h-2.79zM651.36 56.48h2.79v2.79h-2.79zM651.86 57.56h2.79v2.79h-2.79zM652.36 56.55h2.79v2.79h-2.79zM652.87 56.45h2.79v2.79h-2.79zM653.37 56.62h2.79v2.79h-2.79zM653.87 57.33h2.79v2.79h-2.79zM654.38 56.83h2.79v2.79h-2.79zM654.88 56.69h2.79v2.79h-2.79zM655.39 57.87h2.79v2.79h-2.79zM655.89 56.83h2.79v2.79h-2.79z"/>
<path fill="#55c244" d="M658.12 49.84h2.79v2.79h-2.79zM658.56 49.62h2.79v2.79h-2.79zM658.99 48.6h2.79v2.79h-2.79z"/>
<polyline points="658,220.4 658.71,220.4 659.42,220.43 660.13,220.42 660.84,220.44 661.55,220.36 662.26,220.44 662.97,220.35 663.68,220.43 664.39,220.41 665.11,220.4 665.82,220.45 666.53,220.41 667.24,220.39 667.95,220.43 668.66,220.44 669.37,220.41 670.08,220.39 670.79,220.4 671.5,220.4" fill="none" stroke="#55c244" stroke-width="1.4" stroke-linejoin="round" stroke-linecap="butt"/>
<rect x="589.1" y="113.3" width="1.8" height="1.8" fill="#55c244"/>
<rect x="615.1" y="88.7" width="1.8" height="1.8" fill="#55c244"/>
<rect x="660.2" y="79.9" width="1.8" height="1.8" fill="#55c244"/>
<polyline points="407,220.4 407.72,220.4 408.44,220.4 409.15,220.4 409.87,220.4 410.59,220.4 411.31,220.4 412.02,220.4 412.74,220.4 413.46,220.4 414.18,220.4 414.89,220.4 415.61,220.4 416.33,220.4 417.05,220.4 417.76,220.4 418.48,220.4 419.2,220.4" fill="none" stroke="#2c42a8" stroke-width="1.5" stroke-linejoin="round" stroke-linecap="butt"/>
<path fill="#2c42a8" d="M419.32 216.07h1.84v1.84h-1.84zM419.84 216.52h1.84v1.84h-1.84zM420.36 216.43h1.84v1.84h-1.84zM420.87 216.17h1.84v1.84h-1.84zM421.39 216.5h1.84v1.84h-1.84zM421.91 216.45h1.84v1.84h-1.84zM422.43 216.01h1.84v1.84h-1.84zM422.94 216.32h1.84v1.84h-1.84zM423.46 216.41h1.84v1.84h-1.84zM423.98 216.29h1.84v1.84h-1.84zM424.5 216.27h1.84v1.84h-1.84zM425.01 216.43h1.84v1.84h-1.84zM425.53 216.33h1.84v1.84h-1.84zM426.05 216h1.84v1.84h-1.84zM426.57 216.28h1.84v1.84h-1.84zM427.08 216.3h1.84v1.84h-1.84zM427.6 216.12h1.84v1.84h-1.84zM428.12 216.43h1.84v1.84h-1.84zM428.63 216.28h1.84v1.84h-1.84z"/>
<path fill="#2c42a8" d="M430.72 209.69h1.84v1.84h-1.84zM431.24 209.81h1.84v1.84h-1.84zM431.75 209.69h1.84v1.84h-1.84zM432.26 209.81h1.84v1.84h-1.84zM432.78 209.59h1.84v1.84h-1.84zM433.29 209.58h1.84v1.84h-1.84zM433.8 209.77h1.84v1.84h-1.84zM434.32 209.48h1.84v1.84h-1.84zM434.83 209.44h1.84v1.84h-1.84zM435.34 209.44h1.84v1.84h-1.84zM435.86 209.31h1.84v1.84h-1.84zM436.37 209.44h1.84v1.84h-1.84zM436.89 209.15h1.84v1.84h-1.84zM437.4 209.19h1.84v1.84h-1.84zM437.91 209.45h1.84v1.84h-1.84zM438.43 208.94h1.84v1.84h-1.84zM438.94 208.98h1.84v1.84h-1.84zM439.45 209.08h1.84v1.84h-1.84zM439.97 208.72h1.84v1.84h-1.84zM440.48 208.67h1.84v1.84h-1.84zM440.99 208.83h1.84v1.84h-1.84zM441.51 209h1.84v1.84h-1.84zM442.02 208.86h1.84v1.84h-1.84zM442.53 208.71h1.84v1.84h-1.84z"/>
<path fill="#2c42a8" d="M444.62 202.03h1.84v1.84h-1.84zM445.14 202.49h1.84v1.84h-1.84zM445.67 202.25h1.84v1.84h-1.84zM446.19 202.04h1.84v1.84h-1.84zM446.71 202.38h1.84v1.84h-1.84zM447.23 202.35h1.84v1.84h-1.84zM447.75 202.09h1.84v1.84h-1.84zM448.27 201.96h1.84v1.84h-1.84zM448.8 202.44h1.84v1.84h-1.84zM449.32 202.16h1.84v1.84h-1.84zM449.84 202.11h1.84v1.84h-1.84zM450.36 202.21h1.84v1.84h-1.84zM450.88 202.14h1.84v1.84h-1.84zM451.4 202.32h1.84v1.84h-1.84zM451.93 202.1h1.84v1.84h-1.84zM452.45 202.18h1.84v1.84h-1.84zM452.97 202.25h1.84v1.84h-1.84zM453.49 202.34h1.84v1.84h-1.84zM454.01 202.08h1.84v1.84h-1.84zM454.53 202.11h1.84v1.84h-1.84z"/>
<path fill="#2c42a8" d="M456.58 194.42h1.94v1.94h-1.94zM457.08 194.21h1.94v1.94h-1.94zM457.59 194.41h1.94v1.94h-1.94zM458.09 194.33h1.94v1.94h-1.94zM458.6 194.34h1.93v1.93h-1.93zM459.1 194.21h1.93v1.93h-1.93zM459.61 194.37h1.93v1.93h-1.93zM460.11 194.39h1.93v1.93h-1.93zM460.62 194.33h1.93v1.93h-1.93zM461.12 194.75h1.93v1.93h-1.93zM461.63 194.29h1.93v1.93h-1.93zM462.13 194.4h1.93v1.93h-1.93zM462.64 194.61h1.93v1.93h-1.93zM463.14 194.76h1.93v1.93h-1.93zM463.65 194.49h1.93v1.93h-1.93zM464.15 194.6h1.93v1.93h-1.93zM464.66 194.55h1.93v1.93h-1.93zM465.16 194.54h1.93v1.93h-1.93zM465.67 194.94h1.93v1.93h-1.93zM466.17 194.75h1.93v1.93h-1.93zM466.68 194.72h1.93v1.93h-1.93zM467.18 194.86h1.93v1.93h-1.93zM467.69 194.99h1.93v1.93h-1.93zM468.19 195.1h1.93v1.93h-1.93z"/>
<path fill="#2c42a8" d="M470.22 186.05h2.05v2.05h-2.05zM470.73 186.14h2.05v2.05h-2.05zM471.23 186.3h2.05v2.05h-2.05zM471.74 186.5h2.04v2.04h-2.04zM472.25 186.51h2.04v2.04h-2.04zM472.75 186.23h2.04v2.04h-2.04zM473.26 186.61h2.04v2.04h-2.04zM473.77 186.61h2.04v2.04h-2.04zM474.27 187.13h2.04v2.04h-2.04zM474.78 186.91h2.04v2.04h-2.04zM475.29 186.84h2.03v2.03h-2.03zM475.79 187.37h2.03v2.03h-2.03zM476.3 187.11h2.03v2.03h-2.03zM476.81 187.38h2.03v2.03h-2.03zM477.31 187.37h2.03v2.03h-2.03zM477.82 187.57h2.03v2.03h-2.03zM478.33 187.8h2.03v2.03h-2.03zM478.83 187.54h2.02v2.02h-2.02zM479.34 187.66h2.02v2.02h-2.02zM479.84 188.06h2.02v2.02h-2.02z"/>
<path fill="#2c42a8" d="M481.87 178.43h2.15v2.15h-2.15zM482.38 178.58h2.15v2.15h-2.15zM482.9 178.81h2.15v2.15h-2.15zM483.41 178.39h2.15v2.15h-2.15zM483.92 178.88h2.15v2.15h-2.15zM484.44 178.59h2.15v2.15h-2.15zM484.95 178.56h2.15v2.15h-2.15zM485.47 178.6h2.15v2.15h-2.15zM485.98 179.3h2.15v2.15h-2.15zM486.49 178.95h2.15v2.15h-2.15zM487.01 178.96h2.15v2.15h-2.15zM487.52 178.69h2.15v2.15h-2.15zM488.03 179.25h2.14v2.14h-2.14zM488.55 178.66h2.14v2.14h-2.14zM489.06 178.85h2.14v2.14h-2.14zM489.58 179.3h2.14v2.14h-2.14zM490.09 179.3h2.14v2.14h-2.14zM490.6 178.99h2.14v2.14h-2.14zM491.12 179.27h2.14v2.14h-2.14zM491.63 179.07h2.14v2.14h-2.14zM492.14 178.87h2.14v2.14h-2.14zM492.66 179.44h2.14v2.14h-2.14zM493.17 179.27h2.14v2.14h-2.14zM493.69 179.47h2.14v2.14h-2.14z"/>
<path fill="#2c42a8" d="M495.71 170.3h2.26v2.26h-2.26zM496.24 169.83h2.26v2.26h-2.26zM496.76 170.12h2.26v2.26h-2.26zM497.28 169.86h2.26v2.26h-2.26zM497.81 170.19h2.26v2.26h-2.26zM498.33 170.31h2.26v2.26h-2.26zM498.86 170.37h2.26v2.26h-2.26zM499.38 170.78h2.26v2.26h-2.26zM499.91 169.97h2.26v2.26h-2.26zM500.43 170.43h2.26v2.26h-2.26zM500.95 170.33h2.26v2.26h-2.26zM501.48 170.3h2.26v2.26h-2.26zM502 169.85h2.26v2.26h-2.26zM502.53 170.26h2.26v2.26h-2.26zM503.05 170.2h2.26v2.26h-2.26zM503.58 170.13h2.26v2.26h-2.26zM504.1 170.19h2.26v2.26h-2.26zM504.62 169.83h2.26v2.26h-2.26z"/>
<path fill="#2c42a8" d="M506.65 160.29h2.4v2.4h-2.4zM507.16 160.55h2.4v2.4h-2.4zM507.67 160.31h2.4v2.4h-2.4zM508.19 160.65h2.4v2.4h-2.4zM508.7 160.93h2.4v2.4h-2.4zM509.21 160.6h2.4v2.4h-2.4zM509.73 160.42h2.39v2.39h-2.39zM510.24 160.73h2.39v2.39h-2.39zM510.76 160.57h2.39v2.39h-2.39zM511.27 160.51h2.39v2.39h-2.39zM511.78 160.61h2.39v2.39h-2.39zM512.3 161.37h2.39v2.39h-2.39zM512.81 161.03h2.39v2.39h-2.39zM513.33 161.08h2.39v2.39h-2.39zM513.84 161.17h2.39v2.39h-2.39zM514.35 160.38h2.39v2.39h-2.39zM514.87 161.11h2.39v2.39h-2.39zM515.38 161.24h2.39v2.39h-2.39zM515.89 160.96h2.39v2.39h-2.39zM516.41 160.74h2.39v2.39h-2.39zM516.92 161.32h2.39v2.39h-2.39zM517.44 161.08h2.39v2.39h-2.39zM517.95 161.56h2.39v2.39h-2.39zM518.46 161.1h2.39v2.39h-2.39z"/>
<path fill="#2c42a8" d="M520.48 150.47h2.53v2.53h-2.53zM520.98 150.78h2.53v2.53h-2.53zM521.48 150.71h2.53v2.53h-2.53zM521.98 150.68h2.53v2.53h-2.53zM522.48 150.12h2.54v2.54h-2.54zM522.98 150.95h2.54v2.54h-2.54zM523.48 149.74h2.54v2.54h-2.54zM523.98 149.8h2.54v2.54h-2.54zM524.48 149.95h2.54v2.54h-2.54zM524.98 150.42h2.54v2.54h-2.54zM525.48 150.01h2.54v2.54h-2.54zM525.98 150.54h2.54v2.54h-2.54zM526.48 150.04h2.54v2.54h-2.54zM526.98 149.97h2.54v2.54h-2.54zM527.48 149.28h2.54v2.54h-2.54zM527.98 149.44h2.54v2.54h-2.54zM528.48 149.52h2.55v2.55h-2.55zM528.98 149.02h2.55v2.55h-2.55zM529.48 149.07h2.55v2.55h-2.55z"/>
<path fill="#2c42a8" d="M531.54 139.23h2.61v2.61h-2.61zM532.05 139.57h2.61v2.61h-2.61zM532.57 140.16h2.61v2.61h-2.61zM533.08 140.04h2.61v2.61h-2.61zM533.59 140h2.61v2.61h-2.61zM534.11 140.13h2.61v2.61h-2.61zM534.62 139.65h2.61v2.61h-2.61zM535.13 139.89h2.61v2.61h-2.61zM535.65 139.87h2.61v2.61h-2.61zM536.16 139.72h2.61v2.61h-2.61zM536.67 139.98h2.61v2.61h-2.61zM537.19 139.82h2.61v2.61h-2.61zM537.7 140.22h2.61v2.61h-2.61zM538.22 140.59h2.61v2.61h-2.61zM538.73 140.45h2.61v2.61h-2.61zM539.24 140.38h2.61v2.61h-2.61zM539.76 140.61h2.61v2.61h-2.61zM540.27 140.37h2.61v2.61h-2.61zM540.78 140.15h2.61v2.61h-2.61zM541.3 139.77h2.61v2.61h-2.61zM541.81 141.1h2.61v2.61h-2.61zM542.32 140.75h2.61v2.61h-2.61zM542.84 139.8h2.61v2.61h-2.61zM543.35 140.85h2.61v2.61h-2.61z"/>
<path fill="#2c42a8" d="M545.44 130.46h2.61v2.61h-2.61zM545.96 130.58h2.61v2.61h-2.61zM546.48 130.66h2.61v2.61h-2.61zM546.99 130.26h2.61v2.61h-2.61zM547.51 129.93h2.61v2.61h-2.61zM548.03 130.2h2.61v2.61h-2.61zM548.55 130.78h2.61v2.61h-2.61zM549.07 130.04h2.61v2.61h-2.61zM549.59 129.81h2.61v2.61h-2.61zM550.1 130.34h2.61v2.61h-2.61zM550.62 131.11h2.61v2.61h-2.61zM551.14 129.91h2.61v2.61h-2.61zM551.66 130.7h2.61v2.61h-2.61zM552.18 130.28h2.61v2.61h-2.61zM552.7 130.35h2.61v2.61h-2.61zM553.21 130.71h2.61v2.61h-2.61zM553.73 129.74h2.61v2.61h-2.61zM554.25 130.03h2.61v2.61h-2.61z"/>
<path fill="#2c42a8" d="M556.34 118.25h2.61v2.61h-2.61zM556.86 118.69h2.61v2.61h-2.61zM557.38 118.6h2.61v2.61h-2.61zM557.9 118.73h2.61v2.61h-2.61zM558.41 119.04h2.61v2.61h-2.61zM558.93 118.7h2.61v2.61h-2.61zM559.45 118.95h2.61v2.61h-2.61zM559.97 118.73h2.61v2.61h-2.61zM560.49 119.6h2.61v2.61h-2.61zM561.01 119.47h2.61v2.61h-2.61zM561.53 119.94h2.61v2.61h-2.61zM562.05 118.69h2.61v2.61h-2.61zM562.56 119.09h2.61v2.61h-2.61zM563.08 119.45h2.61v2.61h-2.61zM563.6 120h2.61v2.61h-2.61zM564.12 119.48h2.61v2.61h-2.61zM564.64 119.36h2.61v2.61h-2.61zM565.16 120.6h2.61v2.61h-2.61zM565.68 119.89h2.61v2.61h-2.61zM566.19 120.03h2.61v2.61h-2.61zM566.71 119.72h2.61v2.61h-2.61zM567.23 120.93h2.61v2.61h-2.61zM567.75 120.44h2.61v2.61h-2.61z"/>
<path fill="#2c42a8" d="M569.84 109.86h2.61v2.61h-2.61zM570.36 109.96h2.61v2.61h-2.61zM570.88 110.14h2.61v2.61h-2.61zM571.4 110.42h2.61v2.61h-2.61zM571.92 110.37h2.61v2.61h-2.61zM572.44 110.1h2.61v2.61h-2.61zM572.96 111.06h2.61v2.61h-2.61zM573.48 110.19h2.61v2.61h-2.61zM574 111.18h2.61v2.61h-2.61zM574.52 111.05h2.61v2.61h-2.61zM575.05 110.25h2.61v2.61h-2.61zM575.57 111.31h2.61v2.61h-2.61zM576.09 111.12h2.61v2.61h-2.61zM576.61 110.74h2.61v2.61h-2.61zM577.13 111.99h2.61v2.61h-2.61zM577.65 111.76h2.61v2.61h-2.61zM578.17 110.43h2.61v2.61h-2.61zM578.69 111.82h2.61v2.61h-2.61zM579.21 111.21h2.61v2.61h-2.61zM579.73 110.9h2.61v2.61h-2.61zM580.25 111.91h2.61v2.61h-2.61z"/>
<path fill="#2c42a8" d="M582.34 96.65h2.61v2.61h-2.61zM582.85 97.06h2.61v2.61h-2.61zM583.36 97.27h2.61v2.61h-2.61zM583.87 97.12h2.61v2.61h-2.61zM584.38 96.88h2.61v2.61h-2.61zM584.89 96.37h2.61v2.61h-2.61zM585.39 97.29h2.61v2.61h-2.61zM585.9 97.89h2.61v2.61h-2.61zM586.41 97.94h2.61v2.61h-2.61zM586.92 98.09h2.61v2.61h-2.61zM587.43 97.67h2.61v2.61h-2.61zM587.94 97.64h2.61v2.61h-2.61zM588.45 97.25h2.61v2.61h-2.61zM588.96 96.54h2.61v2.61h-2.61zM589.47 97.31h2.61v2.61h-2.61zM589.98 97.32h2.61v2.61h-2.61zM590.49 97.29h2.61v2.61h-2.61zM591 97.73h2.61v2.61h-2.61zM591.5 97.91h2.61v2.61h-2.61zM592.01 97.52h2.61v2.61h-2.61zM592.52 98.16h2.61v2.61h-2.61zM593.03 97.97h2.61v2.61h-2.61zM593.54 98.24h2.61v2.61h-2.61zM594.05 98.36h2.61v2.61h-2.61z"/>
<path fill="#2c42a8" d="M596.24 86.71h2.61v2.61h-2.61zM596.74 86.29h2.61v2.61h-2.61zM597.24 86.38h2.61v2.61h-2.61zM597.74 86.9h2.61v2.61h-2.61zM598.24 87.6h2.61v2.61h-2.61zM598.74 86.38h2.61v2.61h-2.61zM599.24 87.78h2.61v2.61h-2.61zM599.74 87.37h2.61v2.61h-2.61zM600.24 88.01h2.61v2.61h-2.61zM600.75 88.04h2.61v2.61h-2.61zM601.25 87.85h2.61v2.61h-2.61zM601.75 87.79h2.61v2.61h-2.61zM602.25 88.13h2.61v2.61h-2.61zM602.75 88.63h2.61v2.61h-2.61zM603.25 88.07h2.61v2.61h-2.61zM603.75 88.71h2.61v2.61h-2.61zM604.25 88.57h2.61v2.61h-2.61zM604.75 88.68h2.61v2.61h-2.61zM605.25 88.62h2.61v2.61h-2.61z"/>
<path fill="#2c42a8" d="M607.34 77.12h2.61v2.61h-2.61zM607.85 77.75h2.61v2.61h-2.61zM608.37 77.44h2.61v2.61h-2.61zM608.89 76.86h2.61v2.61h-2.61zM609.4 76.51h2.61v2.61h-2.61zM609.92 76.56h2.61v2.61h-2.61zM610.43 75.79h2.61v2.61h-2.61zM610.95 75.46h2.61v2.61h-2.61zM611.46 74.83h2.61v2.61h-2.61zM611.98 75.96h2.61v2.61h-2.61zM612.5 77.36h2.61v2.61h-2.61zM613.01 77.68h2.61v2.61h-2.61zM613.53 78.27h2.61v2.61h-2.61zM614.04 78.1h2.61v2.61h-2.61zM614.56 77.34h2.61v2.61h-2.61zM615.07 78.02h2.61v2.61h-2.61zM615.59 78.36h2.61v2.61h-2.61zM616.1 78.75h2.61v2.61h-2.61zM616.62 80h2.61v2.61h-2.61zM617.14 79.37h2.61v2.61h-2.61zM617.65 79.62h2.61v2.61h-2.61z"/>
<path fill="#2c42a8" d="M621.54 77.58h2.61v2.61h-2.61zM622.04 81.89h2.61v2.61h-2.61zM622.54 80.4h2.61v2.61h-2.61zM623.04 80.59h2.61v2.61h-2.61zM623.54 80.02h2.61v2.61h-2.61zM624.04 79.22h2.61v2.61h-2.61zM624.54 79.36h2.61v2.61h-2.61zM625.04 79.19h2.61v2.61h-2.61zM625.54 79.15h2.61v2.61h-2.61zM626.05 79.27h2.61v2.61h-2.61zM626.55 78.04h2.61v2.61h-2.61zM627.05 77.42h2.61v2.61h-2.61zM627.55 77.16h2.61v2.61h-2.61zM628.05 78.03h2.61v2.61h-2.61zM628.55 77.06h2.61v2.61h-2.61zM629.05 77.14h2.61v2.61h-2.61zM629.55 77.3h2.61v2.61h-2.61zM630.05 76.89h2.61v2.61h-2.61z"/>
<path fill="#2c42a8" d="M631.3 75.77h2.61v2.61h-2.61zM632 71.07h2.61v2.61h-2.61zM632.7 71.9h2.61v2.61h-2.61z"/>
<polyline points="635,218.3 635.71,219.68 636.42,219.66 637.14,219.69 637.85,219.71 638.56,219.71 639.27,219.62 639.98,219.68 640.69,219.67 641.41,219.66 642.12,219.61 642.83,219.58 643.54,219.64 644.25,219.58 644.96,219.58 645.68,219.59 646.39,219.56 647.1,219.6 647.81,219.53 648.52,219.51 649.24,219.55 649.95,219.55 650.66,219.56 651.37,219.54 652.08,219.55 652.79,219.55 653.51,219.5 654.22,219.49 654.93,219.45 655.64,219.45 656.35,219.47 657.06,219.42 657.78,219.47 658.49,219.41 659.2,219.43 659.91,219.47 660.62,219.38 661.34,219.36 662.05,219.4 662.76,219.36 663.47,219.41 664.18,219.33 664.89,219.41 665.61,219.4 666.32,219.38 667.03,219.34 667.74,219.32 668.45,219.35 669.16,219.33 669.88,219.31 670.59,219.29 671.3,219.3" fill="none" stroke="#2c42a8" stroke-width="1.4" stroke-linejoin="round" stroke-linecap="butt"/>
<rect x="614.2" y="84.8" width="1.6" height="1.6" fill="#2c42a8"/>
<rect x="634.55" y="75.35" width="1.3" height="1.3" fill="#2c42a8"/>
<rect x="634.55" y="77.55" width="1.3" height="1.3" fill="#2c42a8"/>
<rect x="634.55" y="79.75" width="1.3" height="1.3" fill="#2c42a8"/>
<rect x="634.55" y="81.95" width="1.3" height="1.3" fill="#2c42a8"/>
<rect x="634.55" y="84.15" width="1.3" height="1.3" fill="#2c42a8"/>
<rect x="634.55" y="86.35" width="1.3" height="1.3" fill="#2c42a8"/>
<rect x="634.55" y="88.55" width="1.3" height="1.3" fill="#2c42a8"/>
<rect x="634.7" y="188.3" width="1.6" height="1.6" fill="#2c42a8"/>
<rect x="406.5" y="4.8" width="278" height="221.7" fill="none" stroke="#1a1a1a" stroke-width="1.1"/>
<line x1="402" y1="220.5" x2="406.5" y2="220.5" stroke="#1a1a1a" stroke-width="1.1"/>
<text x="399.3" y="224.2" font-family="Liberation Sans" font-size="11" font-weight="bold" text-anchor="end" textLength="22.8" lengthAdjust="spacingAndGlyphs">0.00</text>
<line x1="402" y1="189.5" x2="406.5" y2="189.5" stroke="#1a1a1a" stroke-width="1.1"/>
<text x="399.3" y="193.34" font-family="Liberation Sans" font-size="11" font-weight="bold" text-anchor="end" textLength="22.8" lengthAdjust="spacingAndGlyphs">0.05</text>
<line x1="402" y1="158.5" x2="406.5" y2="158.5" stroke="#1a1a1a" stroke-width="1.1"/>
<text x="399.3" y="162.49" font-family="Liberation Sans" font-size="11" font-weight="bold" text-anchor="end" textLength="22.8" lengthAdjust="spacingAndGlyphs">0.10</text>
<line x1="402" y1="127.5" x2="406.5" y2="127.5" stroke="#1a1a1a" stroke-width="1.1"/>
<text x="399.3" y="131.63" font-family="Liberation Sans" font-size="11" font-weight="bold" text-anchor="end" textLength="22.8" lengthAdjust="spacingAndGlyphs">0.15</text>
<line x1="402" y1="97.5" x2="406.5" y2="97.5" stroke="#1a1a1a" stroke-width="1.1"/>
<text x="399.3" y="100.78" font-family="Liberation Sans" font-size="11" font-weight="bold" text-anchor="end" textLength="22.8" lengthAdjust="spacingAndGlyphs">0.20</text>
<line x1="402" y1="66.5" x2="406.5" y2="66.5" stroke="#1a1a1a" stroke-width="1.1"/>
<text x="399.3" y="69.92" font-family="Liberation Sans" font-size="11" font-weight="bold" text-anchor="end" textLength="22.8" lengthAdjust="spacingAndGlyphs">0.25</text>
<line x1="402" y1="35.5" x2="406.5" y2="35.5" stroke="#1a1a1a" stroke-width="1.1"/>
<text x="399.3" y="39.07" font-family="Liberation Sans" font-size="11" font-weight="bold" text-anchor="end" textLength="22.8" lengthAdjust="spacingAndGlyphs">0.30</text>
<line x1="402" y1="4.5" x2="406.5" y2="4.5" stroke="#1a1a1a" stroke-width="1.1"/>
<text x="399.3" y="8.21" font-family="Liberation Sans" font-size="11" font-weight="bold" text-anchor="end" textLength="22.8" lengthAdjust="spacingAndGlyphs">0.35</text>
<line x1="404.2" y1="205.5" x2="406.5" y2="205.5" stroke="#1a1a1a" stroke-width="1.0"/>
<line x1="404.2" y1="174.5" x2="406.5" y2="174.5" stroke="#1a1a1a" stroke-width="1.0"/>
<line x1="404.2" y1="143.5" x2="406.5" y2="143.5" stroke="#1a1a1a" stroke-width="1.0"/>
<line x1="404.2" y1="112.5" x2="406.5" y2="112.5" stroke="#1a1a1a" stroke-width="1.0"/>
<line x1="404.2" y1="81.5" x2="406.5" y2="81.5" stroke="#1a1a1a" stroke-width="1.0"/>
<line x1="404.2" y1="50.5" x2="406.5" y2="50.5" stroke="#1a1a1a" stroke-width="1.0"/>
<line x1="404.2" y1="19.5" x2="406.5" y2="19.5" stroke="#1a1a1a" stroke-width="1.0"/>
<line x1="407.5" y1="226.5" x2="407.5" y2="231.3" stroke="#1a1a1a" stroke-width="1.1"/>
<text x="407.5" y="243.7" font-family="Liberation Sans" font-size="11.5" font-weight="bold" text-anchor="middle" textLength="6.3" lengthAdjust="spacingAndGlyphs">0</text>
<line x1="440.5" y1="226.5" x2="440.5" y2="231.3" stroke="#1a1a1a" stroke-width="1.1"/>
<text x="440.5" y="243.7" font-family="Liberation Sans" font-size="11.5" font-weight="bold" text-anchor="middle" textLength="18.9" lengthAdjust="spacingAndGlyphs">500</text>
<line x1="473.5" y1="226.5" x2="473.5" y2="231.3" stroke="#1a1a1a" stroke-width="1.1"/>
<text x="473.5" y="243.7" font-family="Liberation Sans" font-size="11.5" font-weight="bold" text-anchor="middle" textLength="25.2" lengthAdjust="spacingAndGlyphs">1000</text>
<line x1="506.5" y1="226.5" x2="506.5" y2="231.3" stroke="#1a1a1a" stroke-width="1.1"/>
<text x="506.5" y="243.7" font-family="Liberation Sans" font-size="11.5" font-weight="bold" text-anchor="middle" textLength="25.2" lengthAdjust="spacingAndGlyphs">1500</text>
<line x1="539.5" y1="226.5" x2="539.5" y2="231.3" stroke="#1a1a1a" stroke-width="1.1"/>
<text x="539.5" y="243.7" font-family="Liberation Sans" font-size="11.5" font-weight="bold" text-anchor="middle" textLength="25.2" lengthAdjust="spacingAndGlyphs">2000</text>
<line x1="572.5" y1="226.5" x2="572.5" y2="231.3" stroke="#1a1a1a" stroke-width="1.1"/>
<text x="572.5" y="243.7" font-family="Liberation Sans" font-size="11.5" font-weight="bold" text-anchor="middle" textLength="25.2" lengthAdjust="spacingAndGlyphs">2500</text>
<line x1="605.5" y1="226.5" x2="605.5" y2="231.3" stroke="#1a1a1a" stroke-width="1.1"/>
<text x="605.5" y="243.7" font-family="Liberation Sans" font-size="11.5" font-weight="bold" text-anchor="middle" textLength="25.2" lengthAdjust="spacingAndGlyphs">3000</text>
<line x1="638.5" y1="226.5" x2="638.5" y2="231.3" stroke="#1a1a1a" stroke-width="1.1"/>
<text x="638.5" y="243.7" font-family="Liberation Sans" font-size="11.5" font-weight="bold" text-anchor="middle" textLength="25.2" lengthAdjust="spacingAndGlyphs">3500</text>
<line x1="671.5" y1="226.5" x2="671.5" y2="231.3" stroke="#1a1a1a" stroke-width="1.1"/>
<text x="671.5" y="243.7" font-family="Liberation Sans" font-size="11.5" font-weight="bold" text-anchor="middle" textLength="25.2" lengthAdjust="spacingAndGlyphs">4000</text>
<line x1="424.5" y1="226.5" x2="424.5" y2="229" stroke="#1a1a1a" stroke-width="1.0"/>
<line x1="457.5" y1="226.5" x2="457.5" y2="229" stroke="#1a1a1a" stroke-width="1.0"/>
<line x1="490.5" y1="226.5" x2="490.5" y2="229" stroke="#1a1a1a" stroke-width="1.0"/>
<line x1="523.5" y1="226.5" x2="523.5" y2="229" stroke="#1a1a1a" stroke-width="1.0"/>
<line x1="556.5" y1="226.5" x2="556.5" y2="229" stroke="#1a1a1a" stroke-width="1.0"/>
<line x1="589.5" y1="226.5" x2="589.5" y2="229" stroke="#1a1a1a" stroke-width="1.0"/>
<line x1="622.5" y1="226.5" x2="622.5" y2="229" stroke="#1a1a1a" stroke-width="1.0"/>
<line x1="655.5" y1="226.5" x2="655.5" y2="229" stroke="#1a1a1a" stroke-width="1.0"/>
<rect x="424.4" y="13.6" width="2" height="2" fill="#000"/>
<rect x="424.55" y="28.45" width="1.7" height="1.7" fill="#55c244"/>
<rect x="424.55" y="44.95" width="1.7" height="1.7" fill="#7f8ac8"/>
<text x="441.8" y="18.1" font-family="Liberation Sans" font-size="11.2" font-weight="bold" text-anchor="start" textLength="28.8" lengthAdjust="spacingAndGlyphs">SC13</text>
<text x="441.8" y="32.9" font-family="Liberation Sans" font-size="11.2" font-weight="bold" text-anchor="start" textLength="42.4" lengthAdjust="spacingAndGlyphs">PC<tspan font-size="7.4" dy="3">71</tspan><tspan dy="-3">BM</tspan></text>
<text x="441.8" y="49.7" font-family="Liberation Sans" font-size="11.2" font-weight="bold" text-anchor="start" textLength="75.8" lengthAdjust="spacingAndGlyphs">SC13:PC<tspan font-size="7.4" dy="3">71</tspan><tspan dy="-3">BM</tspan></text>
<text x="183" y="268.8" font-family="Liberation Sans" font-size="11.5" font-weight="bold" text-anchor="middle" textLength="44" lengthAdjust="spacingAndGlyphs">Time (s)</text>
<text x="545.5" y="262.7" font-family="Liberation Sans" font-size="11.5" font-weight="bold" text-anchor="middle" textLength="44" lengthAdjust="spacingAndGlyphs">Time (s)</text>
<text transform="translate(8.7,119) rotate(-90)" font-family="Liberation Sans" font-size="11.3" font-weight="bold" text-anchor="middle" textLength="59" lengthAdjust="spacingAndGlyphs">Current (A)</text>
<text transform="translate(372.2,116.2) rotate(-90)" font-family="Liberation Sans" font-size="11.3" font-weight="bold" text-anchor="middle" textLength="59" lengthAdjust="spacingAndGlyphs">Current (A)</text>
<text x="200.5" y="293.5" font-family="Liberation Serif" font-size="23.5" font-weight="normal" text-anchor="middle" textLength="25.2" lengthAdjust="spacingAndGlyphs">(a)</text>
<text x="556.7" y="287.8" font-family="Liberation Serif" font-size="23.5" font-weight="normal" text-anchor="middle" textLength="25.1" lengthAdjust="spacingAndGlyphs">(b)</text>
</svg>
</body></html>
